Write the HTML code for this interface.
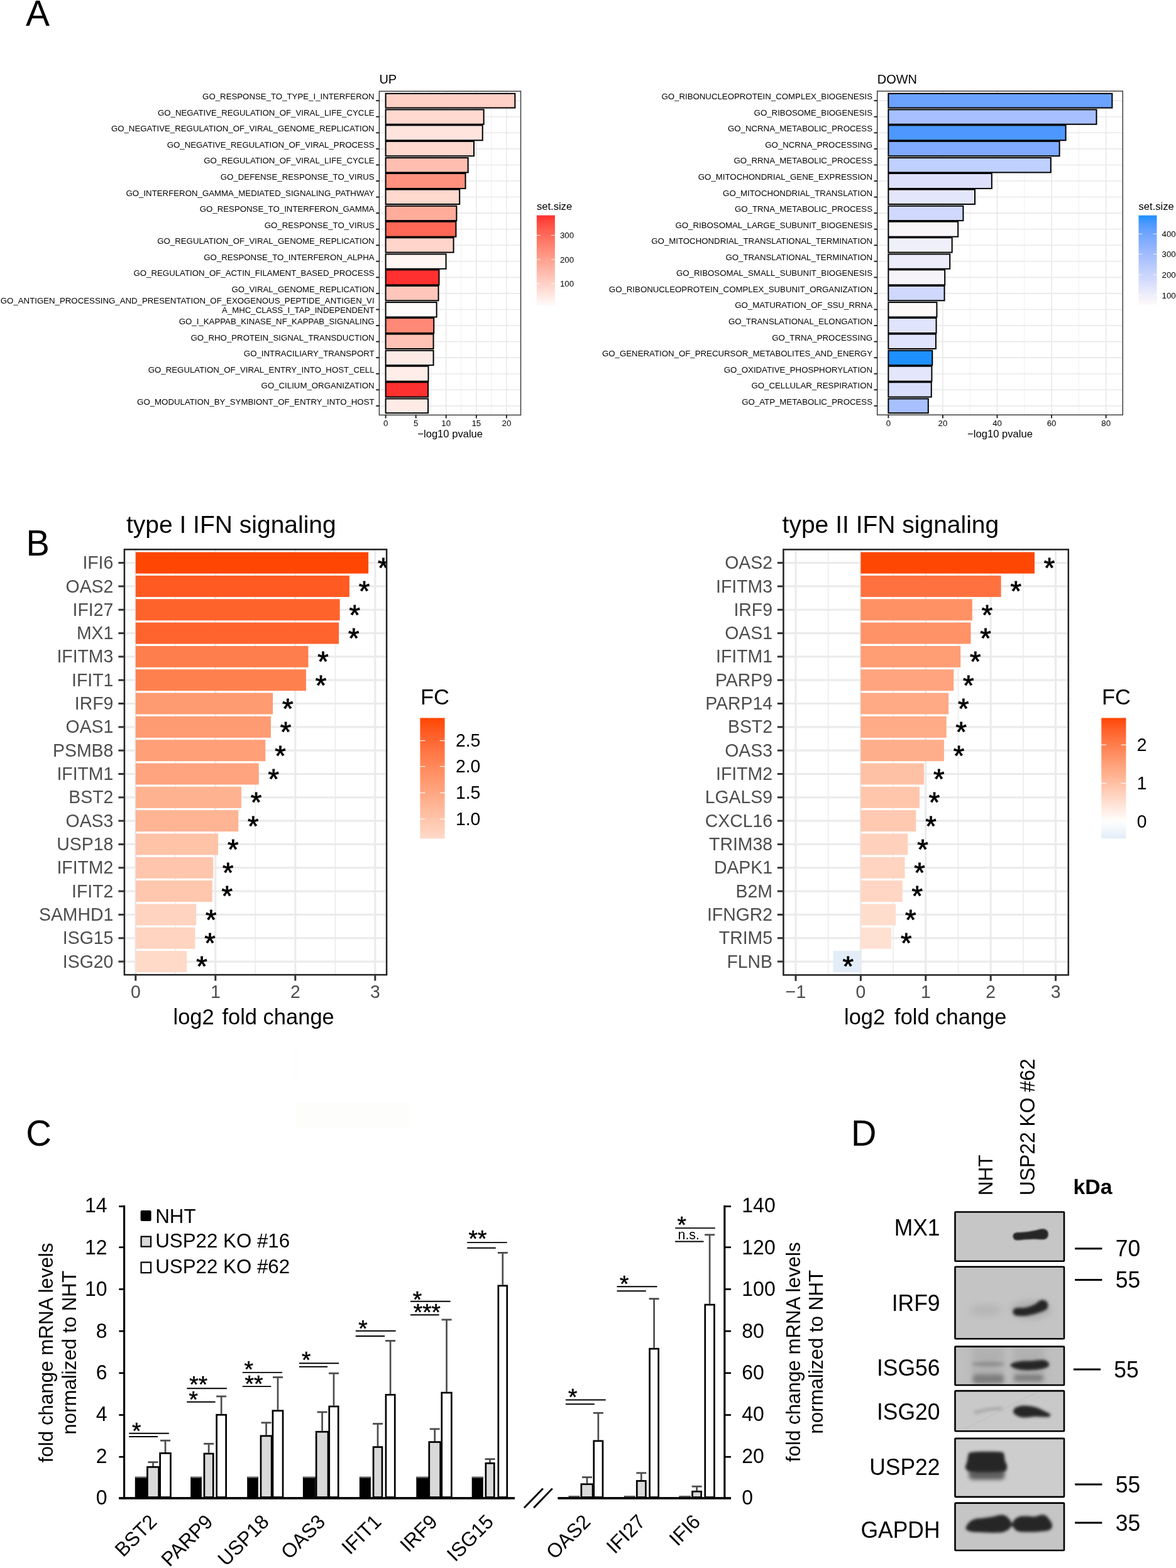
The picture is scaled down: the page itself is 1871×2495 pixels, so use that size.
<!DOCTYPE html>
<html lang="en"><head><meta charset="utf-8"><title>USP22 KO interferon signalling figure</title>
<style>html,body{margin:0;padding:0;background:#fff}body{width:1871px;height:2495px;overflow:hidden}svg{display:block}text{font-family:"Liberation Sans",Arial,Helvetica,sans-serif}</style>
</head><body>
<svg width="1871" height="2495" viewBox="0 0 1871 2495">
<defs>
<linearGradient id="gUp" x1="0" y1="1" x2="0" y2="0"><stop offset="0" stop-color="#FFFAFA"/><stop offset="0.1" stop-color="#FFE9E4"/><stop offset="0.2" stop-color="#FFD7CF"/><stop offset="0.3" stop-color="#FFC6BA"/><stop offset="0.4" stop-color="#FFB4A5"/><stop offset="0.5" stop-color="#FFA290"/><stop offset="0.6" stop-color="#FF8F7C"/><stop offset="0.7" stop-color="#FF7B69"/><stop offset="0.8" stop-color="#FF6656"/><stop offset="0.9" stop-color="#FF4F43"/><stop offset="1" stop-color="#FF3030"/></linearGradient>
<linearGradient id="gDn" x1="0" y1="1" x2="0" y2="0"><stop offset="0" stop-color="#FFFAFA"/><stop offset="0.1" stop-color="#EFEFFB"/><stop offset="0.2" stop-color="#E0E4FC"/><stop offset="0.3" stop-color="#CFD8FD"/><stop offset="0.4" stop-color="#BECEFD"/><stop offset="0.5" stop-color="#ADC3FE"/><stop offset="0.6" stop-color="#9AB8FE"/><stop offset="0.7" stop-color="#85AEFE"/><stop offset="0.8" stop-color="#6EA4FF"/><stop offset="0.9" stop-color="#509AFF"/><stop offset="1" stop-color="#1E90FF"/></linearGradient>
<linearGradient id="gFc1" x1="0" y1="1" x2="0" y2="0"><stop offset="0" stop-color="#FFDAC9"/><stop offset="0.1" stop-color="#FFCDB6"/><stop offset="0.2" stop-color="#FFBFA3"/><stop offset="0.3" stop-color="#FFB291"/><stop offset="0.4" stop-color="#FFA47E"/><stop offset="0.5" stop-color="#FF966C"/><stop offset="0.6" stop-color="#FF8859"/><stop offset="0.7" stop-color="#FF7947"/><stop offset="0.8" stop-color="#FF6934"/><stop offset="0.9" stop-color="#FF581F"/><stop offset="1" stop-color="#FF4500"/></linearGradient>
<linearGradient id="gFc2" x1="0" y1="1" x2="0" y2="0"><stop offset="0" stop-color="#E2ECF8"/><stop offset="0.05" stop-color="#ECF3FB"/><stop offset="0.1" stop-color="#F7FAFD"/><stop offset="0.15" stop-color="#FFFDFC"/><stop offset="0.2" stop-color="#FFF3ED"/><stop offset="0.25" stop-color="#FFE9DF"/><stop offset="0.3" stop-color="#FFDFD0"/><stop offset="0.35" stop-color="#FFD5C2"/><stop offset="0.4" stop-color="#FFCBB4"/><stop offset="0.45" stop-color="#FFC1A6"/><stop offset="0.5" stop-color="#FFB798"/><stop offset="0.55" stop-color="#FFAD8A"/><stop offset="0.6" stop-color="#FFA37D"/><stop offset="0.65" stop-color="#FF996F"/><stop offset="0.7" stop-color="#FF8E62"/><stop offset="0.75" stop-color="#FF8354"/><stop offset="0.8" stop-color="#FF7846"/><stop offset="0.85" stop-color="#FF6D38"/><stop offset="0.9" stop-color="#FF612A"/><stop offset="0.95" stop-color="#FF5319"/><stop offset="1" stop-color="#FF4500"/></linearGradient>
<filter id="b1" x="-40%" y="-100%" width="180%" height="300%"><feGaussianBlur stdDeviation="1.3"/></filter>
<filter id="b2" x="-40%" y="-100%" width="180%" height="300%"><feGaussianBlur stdDeviation="2.0"/></filter>
<filter id="b25" x="-40%" y="-100%" width="180%" height="300%"><feGaussianBlur stdDeviation="2.6"/></filter>
<filter id="b3" x="-40%" y="-100%" width="180%" height="300%"><feGaussianBlur stdDeviation="3.2"/></filter>
<filter id="b5" x="-40%" y="-100%" width="180%" height="300%"><feGaussianBlur stdDeviation="5.5"/></filter>
<clipPath id="cB1"><rect x="197.9" y="874.3" width="417.2" height="676.8"/></clipPath>
<clipPath id="cB2"><rect x="1246.4" y="874.4" width="453.4" height="677"/></clipPath>
<clipPath id="cD0"><rect x="1518.6" y="1927.4" width="175.4" height="80.3"/></clipPath>
<clipPath id="cD1"><rect x="1518.6" y="2014.7" width="175.4" height="116.1"/></clipPath>
<clipPath id="cD2"><rect x="1518.6" y="2141.2" width="175.4" height="63.4"/></clipPath>
<clipPath id="cD3"><rect x="1518.6" y="2212.3" width="175.4" height="65.7"/></clipPath>
<clipPath id="cD4"><rect x="1518.6" y="2288" width="175.4" height="94.6"/></clipPath>
<clipPath id="cD5"><rect x="1518.6" y="2390.9" width="175.4" height="77.1"/></clipPath>
</defs>
<rect x="0" y="0" width="1871" height="2495" fill="#fff"/>
<rect x="470.4" y="1753.2" width="180.4" height="42.7" fill="#FDFDFC"/>
<rect x="468.5" y="1670.9" width="5.8" height="42.4" fill="#FEFDFD"/>
<text font-size="57" transform="translate(41.1 41) scale(1 1.020)">A</text>
<text font-size="56" transform="translate(41.6 884.3) scale(1 1.020)">B</text>
<text font-size="56.5" transform="translate(41.2 1822.9) scale(1 1.020)">C</text>
<text font-size="56" transform="translate(1354 1822.7) scale(1 1.020)">D</text>
<rect x="603.4" y="145.2" width="225.1" height="515.2" fill="#fff"/>
<line x1="637.64" y1="145.2" x2="637.64" y2="660.4" stroke="#EBEBEB" stroke-width="0.8"/>
<line x1="685.71" y1="145.2" x2="685.71" y2="660.4" stroke="#EBEBEB" stroke-width="0.8"/>
<line x1="733.79" y1="145.2" x2="733.79" y2="660.4" stroke="#EBEBEB" stroke-width="0.8"/>
<line x1="781.86" y1="145.2" x2="781.86" y2="660.4" stroke="#EBEBEB" stroke-width="0.8"/>
<line x1="603.4" y1="160.2" x2="828.5" y2="160.2" stroke="#E9E9E9" stroke-width="1.6"/>
<line x1="603.4" y1="185.76" x2="828.5" y2="185.76" stroke="#E9E9E9" stroke-width="1.6"/>
<line x1="603.4" y1="211.32" x2="828.5" y2="211.32" stroke="#E9E9E9" stroke-width="1.6"/>
<line x1="603.4" y1="236.88" x2="828.5" y2="236.88" stroke="#E9E9E9" stroke-width="1.6"/>
<line x1="603.4" y1="262.44" x2="828.5" y2="262.44" stroke="#E9E9E9" stroke-width="1.6"/>
<line x1="603.4" y1="288" x2="828.5" y2="288" stroke="#E9E9E9" stroke-width="1.6"/>
<line x1="603.4" y1="313.56" x2="828.5" y2="313.56" stroke="#E9E9E9" stroke-width="1.6"/>
<line x1="603.4" y1="339.12" x2="828.5" y2="339.12" stroke="#E9E9E9" stroke-width="1.6"/>
<line x1="603.4" y1="364.68" x2="828.5" y2="364.68" stroke="#E9E9E9" stroke-width="1.6"/>
<line x1="603.4" y1="390.24" x2="828.5" y2="390.24" stroke="#E9E9E9" stroke-width="1.6"/>
<line x1="603.4" y1="415.8" x2="828.5" y2="415.8" stroke="#E9E9E9" stroke-width="1.6"/>
<line x1="603.4" y1="441.36" x2="828.5" y2="441.36" stroke="#E9E9E9" stroke-width="1.6"/>
<line x1="603.4" y1="466.92" x2="828.5" y2="466.92" stroke="#E9E9E9" stroke-width="1.6"/>
<line x1="603.4" y1="492.48" x2="828.5" y2="492.48" stroke="#E9E9E9" stroke-width="1.6"/>
<line x1="603.4" y1="518.04" x2="828.5" y2="518.04" stroke="#E9E9E9" stroke-width="1.6"/>
<line x1="603.4" y1="543.6" x2="828.5" y2="543.6" stroke="#E9E9E9" stroke-width="1.6"/>
<line x1="603.4" y1="569.16" x2="828.5" y2="569.16" stroke="#E9E9E9" stroke-width="1.6"/>
<line x1="603.4" y1="594.72" x2="828.5" y2="594.72" stroke="#E9E9E9" stroke-width="1.6"/>
<line x1="603.4" y1="620.28" x2="828.5" y2="620.28" stroke="#E9E9E9" stroke-width="1.6"/>
<line x1="603.4" y1="645.84" x2="828.5" y2="645.84" stroke="#E9E9E9" stroke-width="1.6"/>
<line x1="613.6" y1="145.2" x2="613.6" y2="660.4" stroke="#E9E9E9" stroke-width="1.6"/>
<line x1="661.68" y1="145.2" x2="661.68" y2="660.4" stroke="#E9E9E9" stroke-width="1.6"/>
<line x1="709.75" y1="145.2" x2="709.75" y2="660.4" stroke="#E9E9E9" stroke-width="1.6"/>
<line x1="757.83" y1="145.2" x2="757.83" y2="660.4" stroke="#E9E9E9" stroke-width="1.6"/>
<line x1="805.9" y1="145.2" x2="805.9" y2="660.4" stroke="#E9E9E9" stroke-width="1.6"/>
<rect x="613.6" y="148.82" width="205.76" height="22.76" fill="#FFD0C6" stroke="#000" stroke-width="2"/>
<rect x="613.6" y="174.38" width="156.05" height="23.36" fill="#FFD9D0" stroke="#000" stroke-width="2"/>
<rect x="613.6" y="199.34" width="154.13" height="23.96" fill="#FFE4DE" stroke="#000" stroke-width="2"/>
<rect x="613.6" y="224.9" width="140.38" height="23.36" fill="#FFD8CE" stroke="#000" stroke-width="2"/>
<rect x="613.6" y="251.06" width="131.05" height="23.36" fill="#FFBEB0" stroke="#000" stroke-width="2"/>
<rect x="613.6" y="276.02" width="126.92" height="23.96" fill="#FF917E" stroke="#000" stroke-width="2"/>
<rect x="613.6" y="301.58" width="117.59" height="23.36" fill="#FFD8CE" stroke="#000" stroke-width="2"/>
<rect x="613.6" y="327.74" width="112.78" height="23.36" fill="#FFAC9B" stroke="#000" stroke-width="2"/>
<rect x="613.6" y="352.7" width="111.82" height="23.96" fill="#FF6856" stroke="#000" stroke-width="2"/>
<rect x="613.6" y="378.26" width="107.98" height="23.36" fill="#FFD4CA" stroke="#000" stroke-width="2"/>
<rect x="613.6" y="404.42" width="95.96" height="23.36" fill="#FFF6F4" stroke="#000" stroke-width="2"/>
<rect x="613.6" y="429.38" width="84.9" height="23.96" fill="#FF3030" stroke="#000" stroke-width="2"/>
<rect x="613.6" y="454.94" width="83.94" height="23.36" fill="#FFC7BB" stroke="#000" stroke-width="2"/>
<rect x="613.6" y="481.1" width="81.05" height="23.36" fill="#FFFBFA" stroke="#000" stroke-width="2"/>
<rect x="613.6" y="506.06" width="76.63" height="23.96" fill="#FF8976" stroke="#000" stroke-width="2"/>
<rect x="613.6" y="531.62" width="75.96" height="23.36" fill="#FFC2B4" stroke="#000" stroke-width="2"/>
<rect x="613.6" y="557.78" width="75.96" height="23.36" fill="#FFEBE6" stroke="#000" stroke-width="2"/>
<rect x="613.6" y="582.74" width="67.88" height="23.96" fill="#FFEDE9" stroke="#000" stroke-width="2"/>
<rect x="613.6" y="608.3" width="67.5" height="23.36" fill="#FF3030" stroke="#000" stroke-width="2"/>
<rect x="613.6" y="634.46" width="67.5" height="22.76" fill="#FFEBE6" stroke="#000" stroke-width="2"/>
<rect x="603.4" y="145.2" width="225.1" height="515.2" fill="none" stroke="#333" stroke-width="1.4"/>
<line x1="598.2" y1="160.2" x2="603.4" y2="160.2" stroke="#1A1A1A" stroke-width="1.9"/>
<text font-size="13.25" transform="translate(595.6 158.2) scale(1 1.020)" text-anchor="end">GO_RESPONSE_TO_TYPE_I_INTERFERON</text>
<line x1="598.2" y1="185.76" x2="603.4" y2="185.76" stroke="#1A1A1A" stroke-width="1.9"/>
<text font-size="13.25" transform="translate(595.6 183.76) scale(1 1.020)" text-anchor="end">GO_NEGATIVE_REGULATION_OF_VIRAL_LIFE_CYCLE</text>
<line x1="598.2" y1="211.32" x2="603.4" y2="211.32" stroke="#1A1A1A" stroke-width="1.9"/>
<text font-size="13.25" transform="translate(595.6 209.32) scale(1 1.020)" text-anchor="end">GO_NEGATIVE_REGULATION_OF_VIRAL_GENOME_REPLICATION</text>
<line x1="598.2" y1="236.88" x2="603.4" y2="236.88" stroke="#1A1A1A" stroke-width="1.9"/>
<text font-size="13.25" transform="translate(595.6 234.88) scale(1 1.020)" text-anchor="end">GO_NEGATIVE_REGULATION_OF_VIRAL_PROCESS</text>
<line x1="598.2" y1="262.44" x2="603.4" y2="262.44" stroke="#1A1A1A" stroke-width="1.9"/>
<text font-size="13.25" transform="translate(595.6 260.44) scale(1 1.020)" text-anchor="end">GO_REGULATION_OF_VIRAL_LIFE_CYCLE</text>
<line x1="598.2" y1="288" x2="603.4" y2="288" stroke="#1A1A1A" stroke-width="1.9"/>
<text font-size="13.25" transform="translate(595.6 286) scale(1 1.020)" text-anchor="end">GO_DEFENSE_RESPONSE_TO_VIRUS</text>
<line x1="598.2" y1="313.56" x2="603.4" y2="313.56" stroke="#1A1A1A" stroke-width="1.9"/>
<text font-size="13.25" transform="translate(595.6 311.56) scale(1 1.020)" text-anchor="end">GO_INTERFERON_GAMMA_MEDIATED_SIGNALING_PATHWAY</text>
<line x1="598.2" y1="339.12" x2="603.4" y2="339.12" stroke="#1A1A1A" stroke-width="1.9"/>
<text font-size="13.25" transform="translate(595.6 337.12) scale(1 1.020)" text-anchor="end">GO_RESPONSE_TO_INTERFERON_GAMMA</text>
<line x1="598.2" y1="364.68" x2="603.4" y2="364.68" stroke="#1A1A1A" stroke-width="1.9"/>
<text font-size="13.25" transform="translate(595.6 362.68) scale(1 1.020)" text-anchor="end">GO_RESPONSE_TO_VIRUS</text>
<line x1="598.2" y1="390.24" x2="603.4" y2="390.24" stroke="#1A1A1A" stroke-width="1.9"/>
<text font-size="13.25" transform="translate(595.6 388.24) scale(1 1.020)" text-anchor="end">GO_REGULATION_OF_VIRAL_GENOME_REPLICATION</text>
<line x1="598.2" y1="415.8" x2="603.4" y2="415.8" stroke="#1A1A1A" stroke-width="1.9"/>
<text font-size="13.25" transform="translate(595.6 413.8) scale(1 1.020)" text-anchor="end">GO_RESPONSE_TO_INTERFERON_ALPHA</text>
<line x1="598.2" y1="441.36" x2="603.4" y2="441.36" stroke="#1A1A1A" stroke-width="1.9"/>
<text font-size="13.25" transform="translate(595.6 439.36) scale(1 1.020)" text-anchor="end">GO_REGULATION_OF_ACTIN_FILAMENT_BASED_PROCESS</text>
<line x1="598.2" y1="466.92" x2="603.4" y2="466.92" stroke="#1A1A1A" stroke-width="1.9"/>
<text font-size="13.25" transform="translate(595.6 464.92) scale(1 1.020)" text-anchor="end">GO_VIRAL_GENOME_REPLICATION</text>
<line x1="598.2" y1="492.48" x2="603.4" y2="492.48" stroke="#1A1A1A" stroke-width="1.9"/>
<text font-size="13.25" transform="translate(595.6 482.78) scale(1 1.020)" text-anchor="end">GO_ANTIGEN_PROCESSING_AND_PRESENTATION_OF_EXOGENOUS_PEPTIDE_ANTIGEN_VI</text>
<text font-size="13.25" transform="translate(595.6 497.68) scale(1 1.020)" text-anchor="end">A_MHC_CLASS_I_TAP_INDEPENDENT</text>
<line x1="598.2" y1="518.04" x2="603.4" y2="518.04" stroke="#1A1A1A" stroke-width="1.9"/>
<text font-size="13.25" transform="translate(595.6 516.04) scale(1 1.020)" text-anchor="end">GO_I_KAPPAB_KINASE_NF_KAPPAB_SIGNALING</text>
<line x1="598.2" y1="543.6" x2="603.4" y2="543.6" stroke="#1A1A1A" stroke-width="1.9"/>
<text font-size="13.25" transform="translate(595.6 541.6) scale(1 1.020)" text-anchor="end">GO_RHO_PROTEIN_SIGNAL_TRANSDUCTION</text>
<line x1="598.2" y1="569.16" x2="603.4" y2="569.16" stroke="#1A1A1A" stroke-width="1.9"/>
<text font-size="13.25" transform="translate(595.6 567.16) scale(1 1.020)" text-anchor="end">GO_INTRACILIARY_TRANSPORT</text>
<line x1="598.2" y1="594.72" x2="603.4" y2="594.72" stroke="#1A1A1A" stroke-width="1.9"/>
<text font-size="13.25" transform="translate(595.6 592.72) scale(1 1.020)" text-anchor="end">GO_REGULATION_OF_VIRAL_ENTRY_INTO_HOST_CELL</text>
<line x1="598.2" y1="620.28" x2="603.4" y2="620.28" stroke="#1A1A1A" stroke-width="1.9"/>
<text font-size="13.25" transform="translate(595.6 618.28) scale(1 1.020)" text-anchor="end">GO_CILIUM_ORGANIZATION</text>
<line x1="598.2" y1="645.84" x2="603.4" y2="645.84" stroke="#1A1A1A" stroke-width="1.9"/>
<text font-size="13.25" transform="translate(595.6 643.84) scale(1 1.020)" text-anchor="end">GO_MODULATION_BY_SYMBIONT_OF_ENTRY_INTO_HOST</text>
<line x1="613.6" y1="660.4" x2="613.6" y2="665.6" stroke="#1A1A1A" stroke-width="1.9"/>
<text font-size="13.3" transform="translate(613.6 677.7) scale(1 1.020)" text-anchor="middle">0</text>
<line x1="661.68" y1="660.4" x2="661.68" y2="665.6" stroke="#1A1A1A" stroke-width="1.9"/>
<text font-size="13.3" transform="translate(661.68 677.7) scale(1 1.020)" text-anchor="middle">5</text>
<line x1="709.75" y1="660.4" x2="709.75" y2="665.6" stroke="#1A1A1A" stroke-width="1.9"/>
<text font-size="13.3" transform="translate(709.75 677.7) scale(1 1.020)" text-anchor="middle">10</text>
<line x1="757.83" y1="660.4" x2="757.83" y2="665.6" stroke="#1A1A1A" stroke-width="1.9"/>
<text font-size="13.3" transform="translate(757.83 677.7) scale(1 1.020)" text-anchor="middle">15</text>
<line x1="805.9" y1="660.4" x2="805.9" y2="665.6" stroke="#1A1A1A" stroke-width="1.9"/>
<text font-size="13.3" transform="translate(805.9 677.7) scale(1 1.020)" text-anchor="middle">20</text>
<text font-size="16.6" x="716.2" y="696.2" text-anchor="middle">−log10 pvalue</text>
<text font-size="20" transform="translate(603.4 132.8) scale(1 1.020)">UP</text>
<text font-size="16.6" x="853.9" y="333.5">set.size</text>
<rect x="853.9" y="342.6" width="29" height="143.3" fill="url(#gUp)"/>
<line x1="853.9" y1="374.5" x2="859.7" y2="374.5" stroke="#fff" stroke-width="0.9"/>
<line x1="877.1" y1="374.5" x2="882.9" y2="374.5" stroke="#fff" stroke-width="0.9"/>
<text font-size="13.3" transform="translate(890.9 379.3) scale(1 1.020)">300</text>
<line x1="853.9" y1="413" x2="859.7" y2="413" stroke="#fff" stroke-width="0.9"/>
<line x1="877.1" y1="413" x2="882.9" y2="413" stroke="#fff" stroke-width="0.9"/>
<text font-size="13.3" transform="translate(890.9 417.8) scale(1 1.020)">200</text>
<line x1="853.9" y1="451.2" x2="859.7" y2="451.2" stroke="#fff" stroke-width="0.9"/>
<line x1="877.1" y1="451.2" x2="882.9" y2="451.2" stroke="#fff" stroke-width="0.9"/>
<text font-size="13.3" transform="translate(890.9 456) scale(1 1.020)">100</text>
<rect x="1395.7" y="145" width="390.6" height="515.2" fill="#fff"/>
<line x1="1456.68" y1="145" x2="1456.68" y2="660.2" stroke="#EBEBEB" stroke-width="0.8"/>
<line x1="1543.24" y1="145" x2="1543.24" y2="660.2" stroke="#EBEBEB" stroke-width="0.8"/>
<line x1="1629.8" y1="145" x2="1629.8" y2="660.2" stroke="#EBEBEB" stroke-width="0.8"/>
<line x1="1716.36" y1="145" x2="1716.36" y2="660.2" stroke="#EBEBEB" stroke-width="0.8"/>
<line x1="1395.7" y1="160.2" x2="1786.3" y2="160.2" stroke="#E9E9E9" stroke-width="1.6"/>
<line x1="1395.7" y1="185.76" x2="1786.3" y2="185.76" stroke="#E9E9E9" stroke-width="1.6"/>
<line x1="1395.7" y1="211.32" x2="1786.3" y2="211.32" stroke="#E9E9E9" stroke-width="1.6"/>
<line x1="1395.7" y1="236.88" x2="1786.3" y2="236.88" stroke="#E9E9E9" stroke-width="1.6"/>
<line x1="1395.7" y1="262.44" x2="1786.3" y2="262.44" stroke="#E9E9E9" stroke-width="1.6"/>
<line x1="1395.7" y1="288" x2="1786.3" y2="288" stroke="#E9E9E9" stroke-width="1.6"/>
<line x1="1395.7" y1="313.56" x2="1786.3" y2="313.56" stroke="#E9E9E9" stroke-width="1.6"/>
<line x1="1395.7" y1="339.12" x2="1786.3" y2="339.12" stroke="#E9E9E9" stroke-width="1.6"/>
<line x1="1395.7" y1="364.68" x2="1786.3" y2="364.68" stroke="#E9E9E9" stroke-width="1.6"/>
<line x1="1395.7" y1="390.24" x2="1786.3" y2="390.24" stroke="#E9E9E9" stroke-width="1.6"/>
<line x1="1395.7" y1="415.8" x2="1786.3" y2="415.8" stroke="#E9E9E9" stroke-width="1.6"/>
<line x1="1395.7" y1="441.36" x2="1786.3" y2="441.36" stroke="#E9E9E9" stroke-width="1.6"/>
<line x1="1395.7" y1="466.92" x2="1786.3" y2="466.92" stroke="#E9E9E9" stroke-width="1.6"/>
<line x1="1395.7" y1="492.48" x2="1786.3" y2="492.48" stroke="#E9E9E9" stroke-width="1.6"/>
<line x1="1395.7" y1="518.04" x2="1786.3" y2="518.04" stroke="#E9E9E9" stroke-width="1.6"/>
<line x1="1395.7" y1="543.6" x2="1786.3" y2="543.6" stroke="#E9E9E9" stroke-width="1.6"/>
<line x1="1395.7" y1="569.16" x2="1786.3" y2="569.16" stroke="#E9E9E9" stroke-width="1.6"/>
<line x1="1395.7" y1="594.72" x2="1786.3" y2="594.72" stroke="#E9E9E9" stroke-width="1.6"/>
<line x1="1395.7" y1="620.28" x2="1786.3" y2="620.28" stroke="#E9E9E9" stroke-width="1.6"/>
<line x1="1395.7" y1="645.84" x2="1786.3" y2="645.84" stroke="#E9E9E9" stroke-width="1.6"/>
<line x1="1413.4" y1="145" x2="1413.4" y2="660.2" stroke="#E9E9E9" stroke-width="1.6"/>
<line x1="1499.96" y1="145" x2="1499.96" y2="660.2" stroke="#E9E9E9" stroke-width="1.6"/>
<line x1="1586.52" y1="145" x2="1586.52" y2="660.2" stroke="#E9E9E9" stroke-width="1.6"/>
<line x1="1673.08" y1="145" x2="1673.08" y2="660.2" stroke="#E9E9E9" stroke-width="1.6"/>
<line x1="1759.64" y1="145" x2="1759.64" y2="660.2" stroke="#E9E9E9" stroke-width="1.6"/>
<rect x="1413.4" y="148.82" width="355.98" height="22.76" fill="#6BA2FF" stroke="#000" stroke-width="2"/>
<rect x="1413.4" y="174.38" width="331.09" height="23.36" fill="#A8C0FF" stroke="#000" stroke-width="2"/>
<rect x="1413.4" y="199.34" width="282.19" height="23.96" fill="#4D98FF" stroke="#000" stroke-width="2"/>
<rect x="1413.4" y="224.9" width="272.23" height="23.36" fill="#7FAAFF" stroke="#000" stroke-width="2"/>
<rect x="1413.4" y="251.06" width="258.38" height="23.36" fill="#C0D0FF" stroke="#000" stroke-width="2"/>
<rect x="1413.4" y="276.02" width="164.46" height="23.96" fill="#DCE0FB" stroke="#000" stroke-width="2"/>
<rect x="1413.4" y="301.58" width="137.63" height="23.36" fill="#E4E6FB" stroke="#000" stroke-width="2"/>
<rect x="1413.4" y="327.74" width="119.02" height="23.36" fill="#D0D8FD" stroke="#000" stroke-width="2"/>
<rect x="1413.4" y="352.7" width="110.8" height="23.96" fill="#F8F6F8" stroke="#000" stroke-width="2"/>
<rect x="1413.4" y="378.26" width="101.28" height="23.36" fill="#F0F0FA" stroke="#000" stroke-width="2"/>
<rect x="1413.4" y="404.42" width="97.81" height="23.36" fill="#ECECFA" stroke="#000" stroke-width="2"/>
<rect x="1413.4" y="429.38" width="89.81" height="23.96" fill="#F6F4F9" stroke="#000" stroke-width="2"/>
<rect x="1413.4" y="454.94" width="89.16" height="23.36" fill="#D0D8FD" stroke="#000" stroke-width="2"/>
<rect x="1413.4" y="481.1" width="77.04" height="23.36" fill="#FFFAFA" stroke="#000" stroke-width="2"/>
<rect x="1413.4" y="506.06" width="76.17" height="23.96" fill="#E0E4FC" stroke="#000" stroke-width="2"/>
<rect x="1413.4" y="531.62" width="75.52" height="23.36" fill="#E0E4FC" stroke="#000" stroke-width="2"/>
<rect x="1413.4" y="557.78" width="69.9" height="23.36" fill="#1E90FF" stroke="#000" stroke-width="2"/>
<rect x="1413.4" y="582.74" width="69.03" height="23.96" fill="#E4E6FC" stroke="#000" stroke-width="2"/>
<rect x="1413.4" y="608.3" width="68.38" height="23.36" fill="#D8DEFC" stroke="#000" stroke-width="2"/>
<rect x="1413.4" y="634.46" width="63.41" height="22.76" fill="#A8C0FF" stroke="#000" stroke-width="2"/>
<rect x="1395.7" y="145" width="390.6" height="515.2" fill="none" stroke="#333" stroke-width="1.4"/>
<line x1="1390.5" y1="160.2" x2="1395.7" y2="160.2" stroke="#1A1A1A" stroke-width="1.9"/>
<text font-size="13.25" transform="translate(1388 158.2) scale(1 1.020)" text-anchor="end">GO_RIBONUCLEOPROTEIN_COMPLEX_BIOGENESIS</text>
<line x1="1390.5" y1="185.76" x2="1395.7" y2="185.76" stroke="#1A1A1A" stroke-width="1.9"/>
<text font-size="13.25" transform="translate(1388 183.76) scale(1 1.020)" text-anchor="end">GO_RIBOSOME_BIOGENESIS</text>
<line x1="1390.5" y1="211.32" x2="1395.7" y2="211.32" stroke="#1A1A1A" stroke-width="1.9"/>
<text font-size="13.25" transform="translate(1388 209.32) scale(1 1.020)" text-anchor="end">GO_NCRNA_METABOLIC_PROCESS</text>
<line x1="1390.5" y1="236.88" x2="1395.7" y2="236.88" stroke="#1A1A1A" stroke-width="1.9"/>
<text font-size="13.25" transform="translate(1388 234.88) scale(1 1.020)" text-anchor="end">GO_NCRNA_PROCESSING</text>
<line x1="1390.5" y1="262.44" x2="1395.7" y2="262.44" stroke="#1A1A1A" stroke-width="1.9"/>
<text font-size="13.25" transform="translate(1388 260.44) scale(1 1.020)" text-anchor="end">GO_RRNA_METABOLIC_PROCESS</text>
<line x1="1390.5" y1="288" x2="1395.7" y2="288" stroke="#1A1A1A" stroke-width="1.9"/>
<text font-size="13.25" transform="translate(1388 286) scale(1 1.020)" text-anchor="end">GO_MITOCHONDRIAL_GENE_EXPRESSION</text>
<line x1="1390.5" y1="313.56" x2="1395.7" y2="313.56" stroke="#1A1A1A" stroke-width="1.9"/>
<text font-size="13.25" transform="translate(1388 311.56) scale(1 1.020)" text-anchor="end">GO_MITOCHONDRIAL_TRANSLATION</text>
<line x1="1390.5" y1="339.12" x2="1395.7" y2="339.12" stroke="#1A1A1A" stroke-width="1.9"/>
<text font-size="13.25" transform="translate(1388 337.12) scale(1 1.020)" text-anchor="end">GO_TRNA_METABOLIC_PROCESS</text>
<line x1="1390.5" y1="364.68" x2="1395.7" y2="364.68" stroke="#1A1A1A" stroke-width="1.9"/>
<text font-size="13.25" transform="translate(1388 362.68) scale(1 1.020)" text-anchor="end">GO_RIBOSOMAL_LARGE_SUBUNIT_BIOGENESIS</text>
<line x1="1390.5" y1="390.24" x2="1395.7" y2="390.24" stroke="#1A1A1A" stroke-width="1.9"/>
<text font-size="13.25" transform="translate(1388 388.24) scale(1 1.020)" text-anchor="end">GO_MITOCHONDRIAL_TRANSLATIONAL_TERMINATION</text>
<line x1="1390.5" y1="415.8" x2="1395.7" y2="415.8" stroke="#1A1A1A" stroke-width="1.9"/>
<text font-size="13.25" transform="translate(1388 413.8) scale(1 1.020)" text-anchor="end">GO_TRANSLATIONAL_TERMINATION</text>
<line x1="1390.5" y1="441.36" x2="1395.7" y2="441.36" stroke="#1A1A1A" stroke-width="1.9"/>
<text font-size="13.25" transform="translate(1388 439.36) scale(1 1.020)" text-anchor="end">GO_RIBOSOMAL_SMALL_SUBUNIT_BIOGENESIS</text>
<line x1="1390.5" y1="466.92" x2="1395.7" y2="466.92" stroke="#1A1A1A" stroke-width="1.9"/>
<text font-size="13.25" transform="translate(1388 464.92) scale(1 1.020)" text-anchor="end">GO_RIBONUCLEOPROTEIN_COMPLEX_SUBUNIT_ORGANIZATION</text>
<line x1="1390.5" y1="492.48" x2="1395.7" y2="492.48" stroke="#1A1A1A" stroke-width="1.9"/>
<text font-size="13.25" transform="translate(1388 490.48) scale(1 1.020)" text-anchor="end">GO_MATURATION_OF_SSU_RRNA</text>
<line x1="1390.5" y1="518.04" x2="1395.7" y2="518.04" stroke="#1A1A1A" stroke-width="1.9"/>
<text font-size="13.25" transform="translate(1388 516.04) scale(1 1.020)" text-anchor="end">GO_TRANSLATIONAL_ELONGATION</text>
<line x1="1390.5" y1="543.6" x2="1395.7" y2="543.6" stroke="#1A1A1A" stroke-width="1.9"/>
<text font-size="13.25" transform="translate(1388 541.6) scale(1 1.020)" text-anchor="end">GO_TRNA_PROCESSING</text>
<line x1="1390.5" y1="569.16" x2="1395.7" y2="569.16" stroke="#1A1A1A" stroke-width="1.9"/>
<text font-size="13.25" transform="translate(1388 567.16) scale(1 1.020)" text-anchor="end">GO_GENERATION_OF_PRECURSOR_METABOLITES_AND_ENERGY</text>
<line x1="1390.5" y1="594.72" x2="1395.7" y2="594.72" stroke="#1A1A1A" stroke-width="1.9"/>
<text font-size="13.25" transform="translate(1388 592.72) scale(1 1.020)" text-anchor="end">GO_OXIDATIVE_PHOSPHORYLATION</text>
<line x1="1390.5" y1="620.28" x2="1395.7" y2="620.28" stroke="#1A1A1A" stroke-width="1.9"/>
<text font-size="13.25" transform="translate(1388 618.28) scale(1 1.020)" text-anchor="end">GO_CELLULAR_RESPIRATION</text>
<line x1="1390.5" y1="645.84" x2="1395.7" y2="645.84" stroke="#1A1A1A" stroke-width="1.9"/>
<text font-size="13.25" transform="translate(1388 643.84) scale(1 1.020)" text-anchor="end">GO_ATP_METABOLIC_PROCESS</text>
<line x1="1413.4" y1="660.2" x2="1413.4" y2="665.4" stroke="#1A1A1A" stroke-width="1.9"/>
<text font-size="13.3" transform="translate(1413.4 677.7) scale(1 1.020)" text-anchor="middle">0</text>
<line x1="1499.96" y1="660.2" x2="1499.96" y2="665.4" stroke="#1A1A1A" stroke-width="1.9"/>
<text font-size="13.3" transform="translate(1499.96 677.7) scale(1 1.020)" text-anchor="middle">20</text>
<line x1="1586.52" y1="660.2" x2="1586.52" y2="665.4" stroke="#1A1A1A" stroke-width="1.9"/>
<text font-size="13.3" transform="translate(1586.52 677.7) scale(1 1.020)" text-anchor="middle">40</text>
<line x1="1673.08" y1="660.2" x2="1673.08" y2="665.4" stroke="#1A1A1A" stroke-width="1.9"/>
<text font-size="13.3" transform="translate(1673.08 677.7) scale(1 1.020)" text-anchor="middle">60</text>
<line x1="1759.64" y1="660.2" x2="1759.64" y2="665.4" stroke="#1A1A1A" stroke-width="1.9"/>
<text font-size="13.3" transform="translate(1759.64 677.7) scale(1 1.020)" text-anchor="middle">80</text>
<text font-size="16.6" x="1591" y="696.2" text-anchor="middle">−log10 pvalue</text>
<text font-size="20" transform="translate(1395.7 132.8) scale(1 1.020)">DOWN</text>
<text font-size="16.6" x="1811.5" y="333.5">set.size</text>
<rect x="1811.5" y="342.7" width="29" height="142.5" fill="url(#gDn)"/>
<line x1="1811.5" y1="372.3" x2="1817.3" y2="372.3" stroke="#fff" stroke-width="0.9"/>
<line x1="1834.7" y1="372.3" x2="1840.5" y2="372.3" stroke="#fff" stroke-width="0.9"/>
<text font-size="13.3" transform="translate(1848.5 377.1) scale(1 1.020)">400</text>
<line x1="1811.5" y1="404.3" x2="1817.3" y2="404.3" stroke="#fff" stroke-width="0.9"/>
<line x1="1834.7" y1="404.3" x2="1840.5" y2="404.3" stroke="#fff" stroke-width="0.9"/>
<text font-size="13.3" transform="translate(1848.5 409.1) scale(1 1.020)">300</text>
<line x1="1811.5" y1="437.1" x2="1817.3" y2="437.1" stroke="#fff" stroke-width="0.9"/>
<line x1="1834.7" y1="437.1" x2="1840.5" y2="437.1" stroke="#fff" stroke-width="0.9"/>
<text font-size="13.3" transform="translate(1848.5 441.9) scale(1 1.020)">200</text>
<line x1="1811.5" y1="469.7" x2="1817.3" y2="469.7" stroke="#fff" stroke-width="0.9"/>
<line x1="1834.7" y1="469.7" x2="1840.5" y2="469.7" stroke="#fff" stroke-width="0.9"/>
<text font-size="13.3" transform="translate(1848.5 474.5) scale(1 1.020)">100</text>
<rect x="197.9" y="874.3" width="417.2" height="676.8" fill="#fff"/>
<line x1="279.3" y1="874.3" x2="279.3" y2="1551.1" stroke="#EBEBEB" stroke-width="1.5"/>
<line x1="406.3" y1="874.3" x2="406.3" y2="1551.1" stroke="#EBEBEB" stroke-width="1.5"/>
<line x1="533.3" y1="874.3" x2="533.3" y2="1551.1" stroke="#EBEBEB" stroke-width="1.5"/>
<line x1="197.9" y1="895.6" x2="615.1" y2="895.6" stroke="#EBEBEB" stroke-width="3.2"/>
<line x1="197.9" y1="932.92" x2="615.1" y2="932.92" stroke="#EBEBEB" stroke-width="3.2"/>
<line x1="197.9" y1="970.24" x2="615.1" y2="970.24" stroke="#EBEBEB" stroke-width="3.2"/>
<line x1="197.9" y1="1007.56" x2="615.1" y2="1007.56" stroke="#EBEBEB" stroke-width="3.2"/>
<line x1="197.9" y1="1044.88" x2="615.1" y2="1044.88" stroke="#EBEBEB" stroke-width="3.2"/>
<line x1="197.9" y1="1082.2" x2="615.1" y2="1082.2" stroke="#EBEBEB" stroke-width="3.2"/>
<line x1="197.9" y1="1119.52" x2="615.1" y2="1119.52" stroke="#EBEBEB" stroke-width="3.2"/>
<line x1="197.9" y1="1156.84" x2="615.1" y2="1156.84" stroke="#EBEBEB" stroke-width="3.2"/>
<line x1="197.9" y1="1194.16" x2="615.1" y2="1194.16" stroke="#EBEBEB" stroke-width="3.2"/>
<line x1="197.9" y1="1231.48" x2="615.1" y2="1231.48" stroke="#EBEBEB" stroke-width="3.2"/>
<line x1="197.9" y1="1268.8" x2="615.1" y2="1268.8" stroke="#EBEBEB" stroke-width="3.2"/>
<line x1="197.9" y1="1306.12" x2="615.1" y2="1306.12" stroke="#EBEBEB" stroke-width="3.2"/>
<line x1="197.9" y1="1343.44" x2="615.1" y2="1343.44" stroke="#EBEBEB" stroke-width="3.2"/>
<line x1="197.9" y1="1380.76" x2="615.1" y2="1380.76" stroke="#EBEBEB" stroke-width="3.2"/>
<line x1="197.9" y1="1418.08" x2="615.1" y2="1418.08" stroke="#EBEBEB" stroke-width="3.2"/>
<line x1="197.9" y1="1455.4" x2="615.1" y2="1455.4" stroke="#EBEBEB" stroke-width="3.2"/>
<line x1="197.9" y1="1492.72" x2="615.1" y2="1492.72" stroke="#EBEBEB" stroke-width="3.2"/>
<line x1="197.9" y1="1530.04" x2="615.1" y2="1530.04" stroke="#EBEBEB" stroke-width="3.2"/>
<line x1="215.8" y1="874.3" x2="215.8" y2="1551.1" stroke="#EBEBEB" stroke-width="3.2"/>
<line x1="342.8" y1="874.3" x2="342.8" y2="1551.1" stroke="#EBEBEB" stroke-width="3.2"/>
<line x1="469.8" y1="874.3" x2="469.8" y2="1551.1" stroke="#EBEBEB" stroke-width="3.2"/>
<line x1="596.8" y1="874.3" x2="596.8" y2="1551.1" stroke="#EBEBEB" stroke-width="3.2"/>
<rect x="215.8" y="878.6" width="370.33" height="34" fill="#FF4602"/>
<rect x="215.8" y="915.92" width="340.11" height="34" fill="#FF5A21"/>
<rect x="215.8" y="953.24" width="324.87" height="34" fill="#FF632C"/>
<rect x="215.8" y="990.56" width="323.34" height="34" fill="#FF642E"/>
<rect x="215.8" y="1027.88" width="274.7" height="34" fill="#FF7E4D"/>
<rect x="215.8" y="1065.2" width="271.14" height="34" fill="#FF804F"/>
<rect x="215.8" y="1102.52" width="218.31" height="34" fill="#FF9A71"/>
<rect x="215.8" y="1139.84" width="215.14" height="34" fill="#FF9B73"/>
<rect x="215.8" y="1177.16" width="206.5" height="34" fill="#FF9F78"/>
<rect x="215.8" y="1214.48" width="195.96" height="34" fill="#FFA47F"/>
<rect x="215.8" y="1251.8" width="168.15" height="34" fill="#FFB290"/>
<rect x="215.8" y="1289.12" width="163.45" height="34" fill="#FFB493"/>
<rect x="215.8" y="1326.44" width="131.32" height="34" fill="#FFC3A8"/>
<rect x="215.8" y="1363.76" width="123.44" height="34" fill="#FFC6AD"/>
<rect x="215.8" y="1401.08" width="121.92" height="34" fill="#FFC7AE"/>
<rect x="215.8" y="1438.4" width="96.39" height="34" fill="#FFD3BF"/>
<rect x="215.8" y="1475.72" width="94.49" height="34" fill="#FFD4C0"/>
<rect x="215.8" y="1513.04" width="81.53" height="34" fill="#FFDAC8"/>
<g clip-path="url(#cB1)">
<text font-size="45" x="609.73" y="919" text-anchor="middle" stroke="#000" stroke-width="0.9">*</text>
<text font-size="45" x="579.51" y="956.32" text-anchor="middle" stroke="#000" stroke-width="0.9">*</text>
<text font-size="45" x="564.27" y="993.64" text-anchor="middle" stroke="#000" stroke-width="0.9">*</text>
<text font-size="45" x="562.74" y="1030.96" text-anchor="middle" stroke="#000" stroke-width="0.9">*</text>
<text font-size="45" x="514.1" y="1068.28" text-anchor="middle" stroke="#000" stroke-width="0.9">*</text>
<text font-size="45" x="510.55" y="1105.6" text-anchor="middle" stroke="#000" stroke-width="0.9">*</text>
<text font-size="45" x="457.71" y="1142.92" text-anchor="middle" stroke="#000" stroke-width="0.9">*</text>
<text font-size="45" x="454.54" y="1180.24" text-anchor="middle" stroke="#000" stroke-width="0.9">*</text>
<text font-size="45" x="445.9" y="1217.56" text-anchor="middle" stroke="#000" stroke-width="0.9">*</text>
<text font-size="45" x="435.36" y="1254.88" text-anchor="middle" stroke="#000" stroke-width="0.9">*</text>
<text font-size="45" x="407.55" y="1292.2" text-anchor="middle" stroke="#000" stroke-width="0.9">*</text>
<text font-size="45" x="402.85" y="1329.52" text-anchor="middle" stroke="#000" stroke-width="0.9">*</text>
<text font-size="45" x="370.72" y="1366.84" text-anchor="middle" stroke="#000" stroke-width="0.9">*</text>
<text font-size="45" x="362.84" y="1404.16" text-anchor="middle" stroke="#000" stroke-width="0.9">*</text>
<text font-size="45" x="361.32" y="1441.48" text-anchor="middle" stroke="#000" stroke-width="0.9">*</text>
<text font-size="45" x="335.79" y="1478.8" text-anchor="middle" stroke="#000" stroke-width="0.9">*</text>
<text font-size="45" x="333.89" y="1516.12" text-anchor="middle" stroke="#000" stroke-width="0.9">*</text>
<text font-size="45" x="320.93" y="1553.44" text-anchor="middle" stroke="#000" stroke-width="0.9">*</text>
</g>
<rect x="197.9" y="874.3" width="417.2" height="676.8" fill="none" stroke="#222" stroke-width="2.5"/>
<line x1="188.4" y1="895.6" x2="197.9" y2="895.6" stroke="#333" stroke-width="3"/>
<text font-size="28.4" transform="translate(180.3 905.2) scale(1 1.020)" text-anchor="end" fill="#4D4D4D">IFI6</text>
<line x1="188.4" y1="932.92" x2="197.9" y2="932.92" stroke="#333" stroke-width="3"/>
<text font-size="28.4" transform="translate(180.3 942.52) scale(1 1.020)" text-anchor="end" fill="#4D4D4D">OAS2</text>
<line x1="188.4" y1="970.24" x2="197.9" y2="970.24" stroke="#333" stroke-width="3"/>
<text font-size="28.4" transform="translate(180.3 979.84) scale(1 1.020)" text-anchor="end" fill="#4D4D4D">IFI27</text>
<line x1="188.4" y1="1007.56" x2="197.9" y2="1007.56" stroke="#333" stroke-width="3"/>
<text font-size="28.4" transform="translate(180.3 1017.16) scale(1 1.020)" text-anchor="end" fill="#4D4D4D">MX1</text>
<line x1="188.4" y1="1044.88" x2="197.9" y2="1044.88" stroke="#333" stroke-width="3"/>
<text font-size="28.4" transform="translate(180.3 1054.48) scale(1 1.020)" text-anchor="end" fill="#4D4D4D">IFITM3</text>
<line x1="188.4" y1="1082.2" x2="197.9" y2="1082.2" stroke="#333" stroke-width="3"/>
<text font-size="28.4" transform="translate(180.3 1091.8) scale(1 1.020)" text-anchor="end" fill="#4D4D4D">IFIT1</text>
<line x1="188.4" y1="1119.52" x2="197.9" y2="1119.52" stroke="#333" stroke-width="3"/>
<text font-size="28.4" transform="translate(180.3 1129.12) scale(1 1.020)" text-anchor="end" fill="#4D4D4D">IRF9</text>
<line x1="188.4" y1="1156.84" x2="197.9" y2="1156.84" stroke="#333" stroke-width="3"/>
<text font-size="28.4" transform="translate(180.3 1166.44) scale(1 1.020)" text-anchor="end" fill="#4D4D4D">OAS1</text>
<line x1="188.4" y1="1194.16" x2="197.9" y2="1194.16" stroke="#333" stroke-width="3"/>
<text font-size="28.4" transform="translate(180.3 1203.76) scale(1 1.020)" text-anchor="end" fill="#4D4D4D">PSMB8</text>
<line x1="188.4" y1="1231.48" x2="197.9" y2="1231.48" stroke="#333" stroke-width="3"/>
<text font-size="28.4" transform="translate(180.3 1241.08) scale(1 1.020)" text-anchor="end" fill="#4D4D4D">IFITM1</text>
<line x1="188.4" y1="1268.8" x2="197.9" y2="1268.8" stroke="#333" stroke-width="3"/>
<text font-size="28.4" transform="translate(180.3 1278.4) scale(1 1.020)" text-anchor="end" fill="#4D4D4D">BST2</text>
<line x1="188.4" y1="1306.12" x2="197.9" y2="1306.12" stroke="#333" stroke-width="3"/>
<text font-size="28.4" transform="translate(180.3 1315.72) scale(1 1.020)" text-anchor="end" fill="#4D4D4D">OAS3</text>
<line x1="188.4" y1="1343.44" x2="197.9" y2="1343.44" stroke="#333" stroke-width="3"/>
<text font-size="28.4" transform="translate(180.3 1353.04) scale(1 1.020)" text-anchor="end" fill="#4D4D4D">USP18</text>
<line x1="188.4" y1="1380.76" x2="197.9" y2="1380.76" stroke="#333" stroke-width="3"/>
<text font-size="28.4" transform="translate(180.3 1390.36) scale(1 1.020)" text-anchor="end" fill="#4D4D4D">IFITM2</text>
<line x1="188.4" y1="1418.08" x2="197.9" y2="1418.08" stroke="#333" stroke-width="3"/>
<text font-size="28.4" transform="translate(180.3 1427.68) scale(1 1.020)" text-anchor="end" fill="#4D4D4D">IFIT2</text>
<line x1="188.4" y1="1455.4" x2="197.9" y2="1455.4" stroke="#333" stroke-width="3"/>
<text font-size="28.4" transform="translate(180.3 1465) scale(1 1.020)" text-anchor="end" fill="#4D4D4D">SAMHD1</text>
<line x1="188.4" y1="1492.72" x2="197.9" y2="1492.72" stroke="#333" stroke-width="3"/>
<text font-size="28.4" transform="translate(180.3 1502.32) scale(1 1.020)" text-anchor="end" fill="#4D4D4D">ISG15</text>
<line x1="188.4" y1="1530.04" x2="197.9" y2="1530.04" stroke="#333" stroke-width="3"/>
<text font-size="28.4" transform="translate(180.3 1539.64) scale(1 1.020)" text-anchor="end" fill="#4D4D4D">ISG20</text>
<line x1="215.8" y1="1551.1" x2="215.8" y2="1560.6" stroke="#333" stroke-width="3"/>
<text font-size="28.4" transform="translate(215.8 1588) scale(1 1.020)" text-anchor="middle" fill="#4D4D4D">0</text>
<line x1="342.8" y1="1551.1" x2="342.8" y2="1560.6" stroke="#333" stroke-width="3"/>
<text font-size="28.4" transform="translate(342.8 1588) scale(1 1.020)" text-anchor="middle" fill="#4D4D4D">1</text>
<line x1="469.8" y1="1551.1" x2="469.8" y2="1560.6" stroke="#333" stroke-width="3"/>
<text font-size="28.4" transform="translate(469.8 1588) scale(1 1.020)" text-anchor="middle" fill="#4D4D4D">2</text>
<line x1="596.8" y1="1551.1" x2="596.8" y2="1560.6" stroke="#333" stroke-width="3"/>
<text font-size="28.4" transform="translate(596.8 1588) scale(1 1.020)" text-anchor="middle" fill="#4D4D4D">3</text>
<text font-size="34.5" x="275.5" y="1629.5">log2</text>
<text font-size="34.5" x="531.8" y="1629.5" text-anchor="end">fold change</text>
<text font-size="39" x="200.9" y="848.3">type I IFN signaling</text>
<text font-size="34.5" transform="translate(669 1120.6) scale(1 1.020)">FC</text>
<rect x="668.4" y="1142.4" width="39.2" height="192" fill="url(#gFc1)"/>
<line x1="668.4" y1="1178.5" x2="676.2" y2="1178.5" stroke="#fff" stroke-width="1.2"/>
<line x1="699.8" y1="1178.5" x2="707.6" y2="1178.5" stroke="#fff" stroke-width="1.2"/>
<text font-size="28.4" transform="translate(724.9 1187.9) scale(1 1.020)">2.5</text>
<line x1="668.4" y1="1219.6" x2="676.2" y2="1219.6" stroke="#fff" stroke-width="1.2"/>
<line x1="699.8" y1="1219.6" x2="707.6" y2="1219.6" stroke="#fff" stroke-width="1.2"/>
<text font-size="28.4" transform="translate(724.9 1229) scale(1 1.020)">2.0</text>
<line x1="668.4" y1="1261.5" x2="676.2" y2="1261.5" stroke="#fff" stroke-width="1.2"/>
<line x1="699.8" y1="1261.5" x2="707.6" y2="1261.5" stroke="#fff" stroke-width="1.2"/>
<text font-size="28.4" transform="translate(724.9 1270.9) scale(1 1.020)">1.5</text>
<line x1="668.4" y1="1303.4" x2="676.2" y2="1303.4" stroke="#fff" stroke-width="1.2"/>
<line x1="699.8" y1="1303.4" x2="707.6" y2="1303.4" stroke="#fff" stroke-width="1.2"/>
<text font-size="28.4" transform="translate(724.9 1312.8) scale(1 1.020)">1.0</text>
<rect x="1246.4" y="874.4" width="453.4" height="677" fill="#fff"/>
<line x1="1317.7" y1="874.4" x2="1317.7" y2="1551.4" stroke="#EBEBEB" stroke-width="1.5"/>
<line x1="1421.1" y1="874.4" x2="1421.1" y2="1551.4" stroke="#EBEBEB" stroke-width="1.5"/>
<line x1="1524.5" y1="874.4" x2="1524.5" y2="1551.4" stroke="#EBEBEB" stroke-width="1.5"/>
<line x1="1627.9" y1="874.4" x2="1627.9" y2="1551.4" stroke="#EBEBEB" stroke-width="1.5"/>
<line x1="1246.4" y1="895.6" x2="1699.8" y2="895.6" stroke="#EBEBEB" stroke-width="3.2"/>
<line x1="1246.4" y1="932.92" x2="1699.8" y2="932.92" stroke="#EBEBEB" stroke-width="3.2"/>
<line x1="1246.4" y1="970.24" x2="1699.8" y2="970.24" stroke="#EBEBEB" stroke-width="3.2"/>
<line x1="1246.4" y1="1007.56" x2="1699.8" y2="1007.56" stroke="#EBEBEB" stroke-width="3.2"/>
<line x1="1246.4" y1="1044.88" x2="1699.8" y2="1044.88" stroke="#EBEBEB" stroke-width="3.2"/>
<line x1="1246.4" y1="1082.2" x2="1699.8" y2="1082.2" stroke="#EBEBEB" stroke-width="3.2"/>
<line x1="1246.4" y1="1119.52" x2="1699.8" y2="1119.52" stroke="#EBEBEB" stroke-width="3.2"/>
<line x1="1246.4" y1="1156.84" x2="1699.8" y2="1156.84" stroke="#EBEBEB" stroke-width="3.2"/>
<line x1="1246.4" y1="1194.16" x2="1699.8" y2="1194.16" stroke="#EBEBEB" stroke-width="3.2"/>
<line x1="1246.4" y1="1231.48" x2="1699.8" y2="1231.48" stroke="#EBEBEB" stroke-width="3.2"/>
<line x1="1246.4" y1="1268.8" x2="1699.8" y2="1268.8" stroke="#EBEBEB" stroke-width="3.2"/>
<line x1="1246.4" y1="1306.12" x2="1699.8" y2="1306.12" stroke="#EBEBEB" stroke-width="3.2"/>
<line x1="1246.4" y1="1343.44" x2="1699.8" y2="1343.44" stroke="#EBEBEB" stroke-width="3.2"/>
<line x1="1246.4" y1="1380.76" x2="1699.8" y2="1380.76" stroke="#EBEBEB" stroke-width="3.2"/>
<line x1="1246.4" y1="1418.08" x2="1699.8" y2="1418.08" stroke="#EBEBEB" stroke-width="3.2"/>
<line x1="1246.4" y1="1455.4" x2="1699.8" y2="1455.4" stroke="#EBEBEB" stroke-width="3.2"/>
<line x1="1246.4" y1="1492.72" x2="1699.8" y2="1492.72" stroke="#EBEBEB" stroke-width="3.2"/>
<line x1="1246.4" y1="1530.04" x2="1699.8" y2="1530.04" stroke="#EBEBEB" stroke-width="3.2"/>
<line x1="1266" y1="874.4" x2="1266" y2="1551.4" stroke="#EBEBEB" stroke-width="3.2"/>
<line x1="1369.4" y1="874.4" x2="1369.4" y2="1551.4" stroke="#EBEBEB" stroke-width="3.2"/>
<line x1="1472.8" y1="874.4" x2="1472.8" y2="1551.4" stroke="#EBEBEB" stroke-width="3.2"/>
<line x1="1576.2" y1="874.4" x2="1576.2" y2="1551.4" stroke="#EBEBEB" stroke-width="3.2"/>
<line x1="1679.6" y1="874.4" x2="1679.6" y2="1551.4" stroke="#EBEBEB" stroke-width="3.2"/>
<rect x="1369.4" y="878.6" width="276.59" height="34" fill="#FF4704"/>
<rect x="1369.4" y="915.92" width="223.24" height="34" fill="#FF723F"/>
<rect x="1369.4" y="953.24" width="177.43" height="34" fill="#FF9165"/>
<rect x="1369.4" y="990.56" width="175.06" height="34" fill="#FF9267"/>
<rect x="1369.4" y="1027.88" width="158.82" height="34" fill="#FF9D75"/>
<rect x="1369.4" y="1065.2" width="147.86" height="34" fill="#FFA47E"/>
<rect x="1369.4" y="1102.52" width="139.69" height="34" fill="#FFA985"/>
<rect x="1369.4" y="1139.84" width="136.38" height="34" fill="#FFAB88"/>
<rect x="1369.4" y="1177.16" width="132.56" height="34" fill="#FFAE8B"/>
<rect x="1369.4" y="1214.48" width="100.71" height="34" fill="#FFC1A6"/>
<rect x="1369.4" y="1251.8" width="93.58" height="34" fill="#FFC6AC"/>
<rect x="1369.4" y="1289.12" width="87.89" height="34" fill="#FFC9B1"/>
<rect x="1369.4" y="1326.44" width="74.97" height="34" fill="#FFD1BC"/>
<rect x="1369.4" y="1363.76" width="70.11" height="34" fill="#FFD4C0"/>
<rect x="1369.4" y="1401.08" width="66.38" height="34" fill="#FFD6C4"/>
<rect x="1369.4" y="1438.4" width="55.84" height="34" fill="#FFDDCD"/>
<rect x="1369.4" y="1475.72" width="48.7" height="34" fill="#FFE1D3"/>
<rect x="1325.56" y="1513.04" width="43.84" height="34" fill="#E3EDF8"/>
<g clip-path="url(#cB2)">
<text font-size="45" x="1669.6" y="919" text-anchor="middle" stroke="#000" stroke-width="0.9">*</text>
<text font-size="45" x="1616.24" y="956.32" text-anchor="middle" stroke="#000" stroke-width="0.9">*</text>
<text font-size="45" x="1570.43" y="993.64" text-anchor="middle" stroke="#000" stroke-width="0.9">*</text>
<text font-size="45" x="1568.06" y="1030.96" text-anchor="middle" stroke="#000" stroke-width="0.9">*</text>
<text font-size="45" x="1551.82" y="1068.28" text-anchor="middle" stroke="#000" stroke-width="0.9">*</text>
<text font-size="45" x="1540.86" y="1105.6" text-anchor="middle" stroke="#000" stroke-width="0.9">*</text>
<text font-size="45" x="1532.69" y="1142.92" text-anchor="middle" stroke="#000" stroke-width="0.9">*</text>
<text font-size="45" x="1529.38" y="1180.24" text-anchor="middle" stroke="#000" stroke-width="0.9">*</text>
<text font-size="45" x="1525.56" y="1217.56" text-anchor="middle" stroke="#000" stroke-width="0.9">*</text>
<text font-size="45" x="1493.71" y="1254.88" text-anchor="middle" stroke="#000" stroke-width="0.9">*</text>
<text font-size="45" x="1486.58" y="1292.2" text-anchor="middle" stroke="#000" stroke-width="0.9">*</text>
<text font-size="45" x="1480.89" y="1329.52" text-anchor="middle" stroke="#000" stroke-width="0.9">*</text>
<text font-size="45" x="1467.96" y="1366.84" text-anchor="middle" stroke="#000" stroke-width="0.9">*</text>
<text font-size="45" x="1463.11" y="1404.16" text-anchor="middle" stroke="#000" stroke-width="0.9">*</text>
<text font-size="45" x="1459.38" y="1441.48" text-anchor="middle" stroke="#000" stroke-width="0.9">*</text>
<text font-size="45" x="1448.84" y="1478.8" text-anchor="middle" stroke="#000" stroke-width="0.9">*</text>
<text font-size="45" x="1441.7" y="1516.12" text-anchor="middle" stroke="#000" stroke-width="0.9">*</text>
<text font-size="45" x="1349.16" y="1553.44" text-anchor="middle" stroke="#000" stroke-width="0.9">*</text>
</g>
<rect x="1246.4" y="874.4" width="453.4" height="677" fill="none" stroke="#222" stroke-width="2.5"/>
<line x1="1236.9" y1="895.6" x2="1246.4" y2="895.6" stroke="#333" stroke-width="3"/>
<text font-size="28.4" transform="translate(1229 905.2) scale(1 1.020)" text-anchor="end" fill="#4D4D4D">OAS2</text>
<line x1="1236.9" y1="932.92" x2="1246.4" y2="932.92" stroke="#333" stroke-width="3"/>
<text font-size="28.4" transform="translate(1229 942.52) scale(1 1.020)" text-anchor="end" fill="#4D4D4D">IFITM3</text>
<line x1="1236.9" y1="970.24" x2="1246.4" y2="970.24" stroke="#333" stroke-width="3"/>
<text font-size="28.4" transform="translate(1229 979.84) scale(1 1.020)" text-anchor="end" fill="#4D4D4D">IRF9</text>
<line x1="1236.9" y1="1007.56" x2="1246.4" y2="1007.56" stroke="#333" stroke-width="3"/>
<text font-size="28.4" transform="translate(1229 1017.16) scale(1 1.020)" text-anchor="end" fill="#4D4D4D">OAS1</text>
<line x1="1236.9" y1="1044.88" x2="1246.4" y2="1044.88" stroke="#333" stroke-width="3"/>
<text font-size="28.4" transform="translate(1229 1054.48) scale(1 1.020)" text-anchor="end" fill="#4D4D4D">IFITM1</text>
<line x1="1236.9" y1="1082.2" x2="1246.4" y2="1082.2" stroke="#333" stroke-width="3"/>
<text font-size="28.4" transform="translate(1229 1091.8) scale(1 1.020)" text-anchor="end" fill="#4D4D4D">PARP9</text>
<line x1="1236.9" y1="1119.52" x2="1246.4" y2="1119.52" stroke="#333" stroke-width="3"/>
<text font-size="28.4" transform="translate(1229 1129.12) scale(1 1.020)" text-anchor="end" fill="#4D4D4D">PARP14</text>
<line x1="1236.9" y1="1156.84" x2="1246.4" y2="1156.84" stroke="#333" stroke-width="3"/>
<text font-size="28.4" transform="translate(1229 1166.44) scale(1 1.020)" text-anchor="end" fill="#4D4D4D">BST2</text>
<line x1="1236.9" y1="1194.16" x2="1246.4" y2="1194.16" stroke="#333" stroke-width="3"/>
<text font-size="28.4" transform="translate(1229 1203.76) scale(1 1.020)" text-anchor="end" fill="#4D4D4D">OAS3</text>
<line x1="1236.9" y1="1231.48" x2="1246.4" y2="1231.48" stroke="#333" stroke-width="3"/>
<text font-size="28.4" transform="translate(1229 1241.08) scale(1 1.020)" text-anchor="end" fill="#4D4D4D">IFITM2</text>
<line x1="1236.9" y1="1268.8" x2="1246.4" y2="1268.8" stroke="#333" stroke-width="3"/>
<text font-size="28.4" transform="translate(1229 1278.4) scale(1 1.020)" text-anchor="end" fill="#4D4D4D">LGALS9</text>
<line x1="1236.9" y1="1306.12" x2="1246.4" y2="1306.12" stroke="#333" stroke-width="3"/>
<text font-size="28.4" transform="translate(1229 1315.72) scale(1 1.020)" text-anchor="end" fill="#4D4D4D">CXCL16</text>
<line x1="1236.9" y1="1343.44" x2="1246.4" y2="1343.44" stroke="#333" stroke-width="3"/>
<text font-size="28.4" transform="translate(1229 1353.04) scale(1 1.020)" text-anchor="end" fill="#4D4D4D">TRIM38</text>
<line x1="1236.9" y1="1380.76" x2="1246.4" y2="1380.76" stroke="#333" stroke-width="3"/>
<text font-size="28.4" transform="translate(1229 1390.36) scale(1 1.020)" text-anchor="end" fill="#4D4D4D">DAPK1</text>
<line x1="1236.9" y1="1418.08" x2="1246.4" y2="1418.08" stroke="#333" stroke-width="3"/>
<text font-size="28.4" transform="translate(1229 1427.68) scale(1 1.020)" text-anchor="end" fill="#4D4D4D">B2M</text>
<line x1="1236.9" y1="1455.4" x2="1246.4" y2="1455.4" stroke="#333" stroke-width="3"/>
<text font-size="28.4" transform="translate(1229 1465) scale(1 1.020)" text-anchor="end" fill="#4D4D4D">IFNGR2</text>
<line x1="1236.9" y1="1492.72" x2="1246.4" y2="1492.72" stroke="#333" stroke-width="3"/>
<text font-size="28.4" transform="translate(1229 1502.32) scale(1 1.020)" text-anchor="end" fill="#4D4D4D">TRIM5</text>
<line x1="1236.9" y1="1530.04" x2="1246.4" y2="1530.04" stroke="#333" stroke-width="3"/>
<text font-size="28.4" transform="translate(1229 1539.64) scale(1 1.020)" text-anchor="end" fill="#4D4D4D">FLNB</text>
<line x1="1266" y1="1551.4" x2="1266" y2="1560.9" stroke="#333" stroke-width="3"/>
<text font-size="28.4" transform="translate(1266 1588) scale(1 1.020)" text-anchor="middle" fill="#4D4D4D">−1</text>
<line x1="1369.4" y1="1551.4" x2="1369.4" y2="1560.9" stroke="#333" stroke-width="3"/>
<text font-size="28.4" transform="translate(1369.4 1588) scale(1 1.020)" text-anchor="middle" fill="#4D4D4D">0</text>
<line x1="1472.8" y1="1551.4" x2="1472.8" y2="1560.9" stroke="#333" stroke-width="3"/>
<text font-size="28.4" transform="translate(1472.8 1588) scale(1 1.020)" text-anchor="middle" fill="#4D4D4D">1</text>
<line x1="1576.2" y1="1551.4" x2="1576.2" y2="1560.9" stroke="#333" stroke-width="3"/>
<text font-size="28.4" transform="translate(1576.2 1588) scale(1 1.020)" text-anchor="middle" fill="#4D4D4D">2</text>
<line x1="1679.6" y1="1551.4" x2="1679.6" y2="1560.9" stroke="#333" stroke-width="3"/>
<text font-size="28.4" transform="translate(1679.6 1588) scale(1 1.020)" text-anchor="middle" fill="#4D4D4D">3</text>
<text font-size="34.5" x="1343" y="1629.5">log2</text>
<text font-size="34.5" x="1601.5" y="1629.5" text-anchor="end">fold change</text>
<text font-size="39" x="1244.6" y="848.3">type II IFN signaling</text>
<text font-size="34.5" transform="translate(1752.9 1120.6) scale(1 1.020)">FC</text>
<rect x="1752.3" y="1142.4" width="39.2" height="191.6" fill="url(#gFc2)"/>
<line x1="1752.3" y1="1185.3" x2="1760.1" y2="1185.3" stroke="#fff" stroke-width="1.2"/>
<line x1="1783.7" y1="1185.3" x2="1791.5" y2="1185.3" stroke="#fff" stroke-width="1.2"/>
<text font-size="28.4" transform="translate(1808.8 1194.7) scale(1 1.020)">2</text>
<line x1="1752.3" y1="1246.3" x2="1760.1" y2="1246.3" stroke="#fff" stroke-width="1.2"/>
<line x1="1783.7" y1="1246.3" x2="1791.5" y2="1246.3" stroke="#fff" stroke-width="1.2"/>
<text font-size="28.4" transform="translate(1808.8 1255.7) scale(1 1.020)">1</text>
<line x1="1752.3" y1="1307.3" x2="1760.1" y2="1307.3" stroke="#fff" stroke-width="1.2"/>
<line x1="1783.7" y1="1307.3" x2="1791.5" y2="1307.3" stroke="#fff" stroke-width="1.2"/>
<text font-size="28.4" transform="translate(1808.8 1316.7) scale(1 1.020)">0</text>
<line x1="197.6" y1="1918" x2="197.6" y2="2385.2" stroke="#000" stroke-width="3.1"/>
<text font-size="32" transform="translate(170.6 2394) scale(1 1.020)" text-anchor="end">0</text>
<line x1="189.3" y1="2318.2" x2="197.6" y2="2318.2" stroke="#000" stroke-width="2.7"/>
<text font-size="32" transform="translate(170.6 2327.64) scale(1 1.020)" text-anchor="end">2</text>
<line x1="189.3" y1="2251.5" x2="197.6" y2="2251.5" stroke="#000" stroke-width="2.7"/>
<text font-size="32" transform="translate(170.6 2261.28) scale(1 1.020)" text-anchor="end">4</text>
<line x1="189.3" y1="2184.8" x2="197.6" y2="2184.8" stroke="#000" stroke-width="2.7"/>
<text font-size="32" transform="translate(170.6 2194.92) scale(1 1.020)" text-anchor="end">6</text>
<line x1="189.3" y1="2118.1" x2="197.6" y2="2118.1" stroke="#000" stroke-width="2.7"/>
<text font-size="32" transform="translate(170.6 2128.56) scale(1 1.020)" text-anchor="end">8</text>
<line x1="189.3" y1="2051.4" x2="197.6" y2="2051.4" stroke="#000" stroke-width="2.7"/>
<text font-size="32" transform="translate(170.6 2062.2) scale(1 1.020)" text-anchor="end">10</text>
<line x1="189.3" y1="1984.7" x2="197.6" y2="1984.7" stroke="#000" stroke-width="2.7"/>
<text font-size="32" transform="translate(170.6 1995.84) scale(1 1.020)" text-anchor="end">12</text>
<line x1="189.3" y1="1919.6" x2="197.6" y2="1919.6" stroke="#000" stroke-width="2.7"/>
<text font-size="32" transform="translate(170.6 1929.48) scale(1 1.020)" text-anchor="end">14</text>
<line x1="189.3" y1="2383.8" x2="819" y2="2383.8" stroke="#000" stroke-width="3.2"/>
<line x1="887.6" y1="2383.8" x2="1163" y2="2383.8" stroke="#000" stroke-width="3.2"/>
<line x1="833.9" y1="2399.3" x2="863.9" y2="2368.6" stroke="#000" stroke-width="2.9"/>
<line x1="849.2" y1="2399.3" x2="878.8" y2="2368.6" stroke="#000" stroke-width="2.9"/>
<line x1="1152.8" y1="1918" x2="1152.8" y2="2385.2" stroke="#000" stroke-width="3.1"/>
<text font-size="32" transform="translate(1180.3 2394) scale(1 1.020)">0</text>
<line x1="1152.8" y1="2318.2" x2="1163" y2="2318.2" stroke="#000" stroke-width="2.7"/>
<text font-size="32" transform="translate(1180.3 2327.64) scale(1 1.020)">20</text>
<line x1="1152.8" y1="2251.5" x2="1163" y2="2251.5" stroke="#000" stroke-width="2.7"/>
<text font-size="32" transform="translate(1180.3 2261.28) scale(1 1.020)">40</text>
<line x1="1152.8" y1="2184.8" x2="1163" y2="2184.8" stroke="#000" stroke-width="2.7"/>
<text font-size="32" transform="translate(1180.3 2194.92) scale(1 1.020)">60</text>
<line x1="1152.8" y1="2118.1" x2="1163" y2="2118.1" stroke="#000" stroke-width="2.7"/>
<text font-size="32" transform="translate(1180.3 2128.56) scale(1 1.020)">80</text>
<line x1="1152.8" y1="2051.4" x2="1163" y2="2051.4" stroke="#000" stroke-width="2.7"/>
<text font-size="32" transform="translate(1180.3 2062.2) scale(1 1.020)">100</text>
<line x1="1152.8" y1="1984.7" x2="1163" y2="1984.7" stroke="#000" stroke-width="2.7"/>
<text font-size="32" transform="translate(1180.3 1995.84) scale(1 1.020)">120</text>
<line x1="1152.8" y1="1919.6" x2="1163" y2="1919.6" stroke="#000" stroke-width="2.7"/>
<text font-size="32" transform="translate(1180.3 1929.48) scale(1 1.020)">140</text>
<text font-size="31.3" transform="translate(84 2152.4) rotate(-90)" text-anchor="middle">fold change mRNA levels</text>
<text font-size="31.3" transform="translate(120.8 2152.4) rotate(-90)" text-anchor="middle">normalized to NHT</text>
<text font-size="31.3" transform="translate(1272.5 2151.3) rotate(-90)" text-anchor="middle">fold change mRNA levels</text>
<text font-size="31.3" transform="translate(1309.3 2151.3) rotate(-90)" text-anchor="middle">normalized to NHT</text>
<rect x="223.6" y="1926" width="17" height="17" fill="#000" rx="2"/>
<rect x="224.6" y="1967.6" width="15.4" height="16" fill="#D9D9D9" stroke="#000" stroke-width="2.2"/>
<rect x="224.6" y="2008.6" width="15.4" height="16.6" fill="#fff" stroke="#000" stroke-width="2.2"/>
<text font-size="31.3" transform="translate(247.2 1945.5) scale(1 1.020)">NHT</text>
<text font-size="31.3" transform="translate(247.2 1984.8) scale(1 1.020)">USP22 KO #16</text>
<text font-size="31.3" transform="translate(247.2 2026.4) scale(1 1.020)">USP22 KO #62</text>
<line x1="243.55" y1="2326.6" x2="243.55" y2="2333" stroke="#4D4D4D" stroke-width="2.7"/>
<line x1="235.55" y1="2326.6" x2="251.55" y2="2326.6" stroke="#4D4D4D" stroke-width="2.8"/>
<line x1="263.05" y1="2292.2" x2="263.05" y2="2311" stroke="#4D4D4D" stroke-width="2.7"/>
<line x1="255.05" y1="2292.2" x2="271.05" y2="2292.2" stroke="#4D4D4D" stroke-width="2.8"/>
<rect x="214.8" y="2349.8" width="19.7" height="34" fill="#000"/>
<line x1="215.4" y1="2350.9" x2="233.9" y2="2350.9" stroke="#5A5A5A" stroke-width="2.2"/>
<rect x="234.45" y="2334.35" width="18.2" height="48.1" fill="#D9D9D9" stroke="#000" stroke-width="2.7"/>
<rect x="254.65" y="2312.35" width="16.8" height="70.1" fill="#fff" stroke="#000" stroke-width="2.7"/>
<line x1="205.2" y1="2280.8" x2="268.9" y2="2280.8" stroke="#000" stroke-width="1.9"/>
<line x1="205.2" y1="2286" x2="251" y2="2286" stroke="#000" stroke-width="1.9"/>
<text font-size="37" x="217.3" y="2289.57" text-anchor="middle" stroke="#000" stroke-width="0.5">*</text>
<text font-size="31.3" transform="translate(251.3 2423.4) rotate(-45) scale(1 1.020)" text-anchor="end">BST2</text>
<line x1="332.1" y1="2297.3" x2="332.1" y2="2311.7" stroke="#4D4D4D" stroke-width="2.7"/>
<line x1="324.1" y1="2297.3" x2="340.1" y2="2297.3" stroke="#4D4D4D" stroke-width="2.8"/>
<line x1="352.15" y1="2221.9" x2="352.15" y2="2249.9" stroke="#4D4D4D" stroke-width="2.7"/>
<line x1="344.15" y1="2221.9" x2="360.15" y2="2221.9" stroke="#4D4D4D" stroke-width="2.8"/>
<rect x="303.2" y="2349.8" width="17.7" height="34" fill="#000"/>
<line x1="303.8" y1="2350.9" x2="320.3" y2="2350.9" stroke="#5A5A5A" stroke-width="2.2"/>
<rect x="324.95" y="2313.05" width="14.3" height="69.4" fill="#D9D9D9" stroke="#000" stroke-width="2.7"/>
<rect x="344.65" y="2251.25" width="15" height="131.2" fill="#fff" stroke="#000" stroke-width="2.7"/>
<line x1="297.3" y1="2209.3" x2="360.9" y2="2209.3" stroke="#000" stroke-width="1.9"/>
<line x1="297.3" y1="2230.8" x2="342.6" y2="2230.8" stroke="#000" stroke-width="1.9"/>
<text font-size="37" x="315.7" y="2216.27" text-anchor="middle" stroke="#000" stroke-width="0.5">**</text>
<text font-size="37" x="307.6" y="2239.57" text-anchor="middle" stroke="#000" stroke-width="0.5">*</text>
<text font-size="31.3" transform="translate(340.6 2423.4) rotate(-45) scale(1 1.020)" text-anchor="end">PARP9</text>
<line x1="423.55" y1="2263.8" x2="423.55" y2="2283.5" stroke="#4D4D4D" stroke-width="2.7"/>
<line x1="415.55" y1="2263.8" x2="431.55" y2="2263.8" stroke="#4D4D4D" stroke-width="2.8"/>
<line x1="442" y1="2191.5" x2="442" y2="2243.4" stroke="#4D4D4D" stroke-width="2.7"/>
<line x1="434" y1="2191.5" x2="450" y2="2191.5" stroke="#4D4D4D" stroke-width="2.8"/>
<rect x="393.2" y="2349.8" width="17.7" height="34" fill="#000"/>
<line x1="393.8" y1="2350.9" x2="410.3" y2="2350.9" stroke="#5A5A5A" stroke-width="2.2"/>
<rect x="414.95" y="2284.85" width="17.2" height="97.6" fill="#D9D9D9" stroke="#000" stroke-width="2.7"/>
<rect x="433.95" y="2244.75" width="16.1" height="137.7" fill="#fff" stroke="#000" stroke-width="2.7"/>
<line x1="385.7" y1="2183.9" x2="449.1" y2="2183.9" stroke="#000" stroke-width="1.9"/>
<line x1="385.7" y1="2206.1" x2="431.3" y2="2206.1" stroke="#000" stroke-width="1.9"/>
<text font-size="37" x="395.8" y="2191.87" text-anchor="middle" stroke="#000" stroke-width="0.5">*</text>
<text font-size="37" x="403.9" y="2214.87" text-anchor="middle" stroke="#000" stroke-width="0.5">**</text>
<text font-size="31.3" transform="translate(429.9 2423.4) rotate(-45) scale(1 1.020)" text-anchor="end">USP18</text>
<line x1="512.6" y1="2246.9" x2="512.6" y2="2276.9" stroke="#4D4D4D" stroke-width="2.7"/>
<line x1="504.6" y1="2246.9" x2="520.6" y2="2246.9" stroke="#4D4D4D" stroke-width="2.8"/>
<line x1="531" y1="2185.2" x2="531" y2="2236.6" stroke="#4D4D4D" stroke-width="2.7"/>
<line x1="523" y1="2185.2" x2="539" y2="2185.2" stroke="#4D4D4D" stroke-width="2.8"/>
<rect x="481.9" y="2349.8" width="19.9" height="34" fill="#000"/>
<line x1="482.5" y1="2350.9" x2="501.2" y2="2350.9" stroke="#5A5A5A" stroke-width="2.2"/>
<rect x="503.15" y="2278.25" width="18.9" height="104.2" fill="#D9D9D9" stroke="#000" stroke-width="2.7"/>
<rect x="523.75" y="2237.95" width="14.5" height="144.5" fill="#fff" stroke="#000" stroke-width="2.7"/>
<line x1="476" y1="2169.3" x2="539.2" y2="2169.3" stroke="#000" stroke-width="1.9"/>
<line x1="476" y1="2174.8" x2="521.1" y2="2174.8" stroke="#000" stroke-width="1.9"/>
<text font-size="37" x="487.3" y="2177.07" text-anchor="middle" stroke="#000" stroke-width="0.5">*</text>
<text font-size="31.3" transform="translate(519.2 2423.4) rotate(-45) scale(1 1.020)" text-anchor="end">OAS3</text>
<line x1="601" y1="2265.5" x2="601" y2="2301.2" stroke="#4D4D4D" stroke-width="2.7"/>
<line x1="593" y1="2265.5" x2="609" y2="2265.5" stroke="#4D4D4D" stroke-width="2.8"/>
<line x1="621.1" y1="2133.5" x2="621.1" y2="2218" stroke="#4D4D4D" stroke-width="2.7"/>
<line x1="613.1" y1="2133.5" x2="629.1" y2="2133.5" stroke="#4D4D4D" stroke-width="2.8"/>
<rect x="571.9" y="2349.8" width="18" height="34" fill="#000"/>
<line x1="572.5" y1="2350.9" x2="589.3" y2="2350.9" stroke="#5A5A5A" stroke-width="2.2"/>
<rect x="594.05" y="2302.55" width="13.9" height="79.9" fill="#D9D9D9" stroke="#000" stroke-width="2.7"/>
<rect x="613.95" y="2219.35" width="14.3" height="163.1" fill="#fff" stroke="#000" stroke-width="2.7"/>
<line x1="565.8" y1="2117.7" x2="629.6" y2="2117.7" stroke="#000" stroke-width="1.9"/>
<line x1="565.8" y1="2126" x2="612.1" y2="2126" stroke="#000" stroke-width="1.9"/>
<text font-size="37" x="577.4" y="2127.37" text-anchor="middle" stroke="#000" stroke-width="0.5">*</text>
<text font-size="31.3" transform="translate(608.5 2423.4) rotate(-45) scale(1 1.020)" text-anchor="end">IFIT1</text>
<line x1="691.7" y1="2273.8" x2="691.7" y2="2293.2" stroke="#4D4D4D" stroke-width="2.7"/>
<line x1="683.7" y1="2273.8" x2="699.7" y2="2273.8" stroke="#4D4D4D" stroke-width="2.8"/>
<line x1="710.55" y1="2099.9" x2="710.55" y2="2214.7" stroke="#4D4D4D" stroke-width="2.7"/>
<line x1="702.55" y1="2099.9" x2="718.55" y2="2099.9" stroke="#4D4D4D" stroke-width="2.8"/>
<rect x="662.3" y="2349.8" width="19.7" height="34" fill="#000"/>
<line x1="662.9" y1="2350.9" x2="681.4" y2="2350.9" stroke="#5A5A5A" stroke-width="2.2"/>
<rect x="682.75" y="2294.55" width="17.9" height="87.9" fill="#D9D9D9" stroke="#000" stroke-width="2.7"/>
<rect x="702.75" y="2216.05" width="15.6" height="166.4" fill="#fff" stroke="#000" stroke-width="2.7"/>
<line x1="652.9" y1="2070.8" x2="716.6" y2="2070.8" stroke="#000" stroke-width="1.9"/>
<line x1="652.9" y1="2092.2" x2="698.6" y2="2092.2" stroke="#000" stroke-width="1.9"/>
<text font-size="37" x="663.9" y="2080.57" text-anchor="middle" stroke="#000" stroke-width="0.5">*</text>
<text font-size="37" x="679.4" y="2101.37" text-anchor="middle" stroke="#000" stroke-width="0.5">***</text>
<text font-size="31.3" transform="translate(697.8 2423.4) rotate(-45) scale(1 1.020)" text-anchor="end">IRF9</text>
<line x1="779.55" y1="2321.7" x2="779.55" y2="2327" stroke="#4D4D4D" stroke-width="2.7"/>
<line x1="771.55" y1="2321.7" x2="787.55" y2="2321.7" stroke="#4D4D4D" stroke-width="2.8"/>
<line x1="799.8" y1="1993.4" x2="799.8" y2="2044.5" stroke="#4D4D4D" stroke-width="2.7"/>
<line x1="791.8" y1="1993.4" x2="807.8" y2="1993.4" stroke="#4D4D4D" stroke-width="2.8"/>
<rect x="750.7" y="2349.8" width="18.1" height="34" fill="#000"/>
<line x1="751.3" y1="2350.9" x2="768.2" y2="2350.9" stroke="#5A5A5A" stroke-width="2.2"/>
<rect x="772.85" y="2328.35" width="13.4" height="54.1" fill="#D9D9D9" stroke="#000" stroke-width="2.7"/>
<rect x="792.85" y="2045.85" width="13.9" height="336.6" fill="#fff" stroke="#000" stroke-width="2.7"/>
<line x1="743.2" y1="1977.1" x2="806.7" y2="1977.1" stroke="#000" stroke-width="1.9"/>
<line x1="743.2" y1="1985.7" x2="788.7" y2="1985.7" stroke="#000" stroke-width="1.9"/>
<text font-size="37" x="760" y="1984.37" text-anchor="middle" stroke="#000" stroke-width="0.5">**</text>
<text font-size="31.3" transform="translate(787.1 2423.4) rotate(-45) scale(1 1.020)" text-anchor="end">ISG15</text>
<line x1="933.95" y1="2350.6" x2="933.95" y2="2360.3" stroke="#4D4D4D" stroke-width="2.7"/>
<line x1="925.95" y1="2350.6" x2="941.95" y2="2350.6" stroke="#4D4D4D" stroke-width="2.8"/>
<line x1="951.85" y1="2248.3" x2="951.85" y2="2291.5" stroke="#4D4D4D" stroke-width="2.7"/>
<line x1="943.85" y1="2248.3" x2="959.85" y2="2248.3" stroke="#4D4D4D" stroke-width="2.8"/>
<rect x="904.6" y="2380.2" width="17.5" height="3.6" fill="#000"/>
<line x1="905.2" y1="2381.3" x2="921.5" y2="2381.3" stroke="#5A5A5A" stroke-width="2.2"/>
<rect x="924.85" y="2361.65" width="18.2" height="20.8" fill="#D9D9D9" stroke="#000" stroke-width="2.7"/>
<rect x="944.75" y="2292.85" width="14.2" height="89.6" fill="#fff" stroke="#000" stroke-width="2.7"/>
<line x1="899.9" y1="2227.5" x2="963.7" y2="2227.5" stroke="#000" stroke-width="1.9"/>
<line x1="899.9" y1="2234.3" x2="945.8" y2="2234.3" stroke="#000" stroke-width="1.9"/>
<text font-size="37" x="911.1" y="2236.17" text-anchor="middle" stroke="#000" stroke-width="0.5">*</text>
<text font-size="31.3" transform="translate(941.2 2423.4) rotate(-45) scale(1 1.020)" text-anchor="end">OAS2</text>
<line x1="1020.3" y1="2343.8" x2="1020.3" y2="2355.1" stroke="#4D4D4D" stroke-width="2.7"/>
<line x1="1012.3" y1="2343.8" x2="1028.3" y2="2343.8" stroke="#4D4D4D" stroke-width="2.8"/>
<line x1="1040.6" y1="2066.6" x2="1040.6" y2="2144.8" stroke="#4D4D4D" stroke-width="2.7"/>
<line x1="1032.6" y1="2066.6" x2="1048.6" y2="2066.6" stroke="#4D4D4D" stroke-width="2.8"/>
<rect x="993.1" y="2380.2" width="17.4" height="3.6" fill="#000"/>
<line x1="993.7" y1="2381.3" x2="1009.9" y2="2381.3" stroke="#5A5A5A" stroke-width="2.2"/>
<rect x="1013.25" y="2356.45" width="14.1" height="26" fill="#D9D9D9" stroke="#000" stroke-width="2.7"/>
<rect x="1033.55" y="2146.15" width="14.1" height="236.3" fill="#fff" stroke="#000" stroke-width="2.7"/>
<line x1="981.5" y1="2047.2" x2="1045.5" y2="2047.2" stroke="#000" stroke-width="1.9"/>
<line x1="981.5" y1="2054.2" x2="1027.8" y2="2054.2" stroke="#000" stroke-width="1.9"/>
<text font-size="37" x="993.1" y="2056.07" text-anchor="middle" stroke="#000" stroke-width="0.5">*</text>
<text font-size="31.3" transform="translate(1028.5 2423.4) rotate(-45) scale(1 1.020)" text-anchor="end">IFI27</text>
<line x1="1108.6" y1="2365.2" x2="1108.6" y2="2371.9" stroke="#4D4D4D" stroke-width="2.7"/>
<line x1="1100.6" y1="2365.2" x2="1116.6" y2="2365.2" stroke="#4D4D4D" stroke-width="2.8"/>
<line x1="1129.1" y1="1964.8" x2="1129.1" y2="2074.7" stroke="#4D4D4D" stroke-width="2.7"/>
<line x1="1121.1" y1="1964.8" x2="1137.1" y2="1964.8" stroke="#4D4D4D" stroke-width="2.8"/>
<rect x="1080.5" y="2380.2" width="18.2" height="3.6" fill="#000"/>
<line x1="1081.1" y1="2381.3" x2="1098.1" y2="2381.3" stroke="#5A5A5A" stroke-width="2.2"/>
<rect x="1101.55" y="2373.25" width="14.1" height="9.2" fill="#D9D9D9" stroke="#000" stroke-width="2.7"/>
<rect x="1121.75" y="2076.05" width="14.7" height="306.4" fill="#fff" stroke="#000" stroke-width="2.7"/>
<line x1="1074.1" y1="1954.1" x2="1137.8" y2="1954.1" stroke="#000" stroke-width="1.9"/>
<line x1="1074.1" y1="1975.5" x2="1119.5" y2="1975.5" stroke="#000" stroke-width="1.9"/>
<text font-size="37" x="1084.8" y="1962.07" text-anchor="middle" stroke="#000" stroke-width="0.5">*</text>
<text font-size="31.3" transform="translate(1116 2423.4) rotate(-45) scale(1 1.020)" text-anchor="end">IFI6</text>
<text font-size="21.3" x="1078.6" y="1971.7">n.s.</text>
<line x1="189.3" y1="2383.8" x2="819" y2="2383.8" stroke="#000" stroke-width="3.2"/>
<line x1="887.6" y1="2383.8" x2="1163" y2="2383.8" stroke="#000" stroke-width="3.2"/>
<rect x="1519.2" y="1928.2" width="174.1" height="78.9" fill="#C6C6C6"/>
<g clip-path="url(#cD0)">
<g filter="url(#b1)" fill="#262626" stroke="#262626" stroke-width="0">
<path d="M1611.39,1966.76 C1611.39,1965.1 1612.72,1963.33 1614.04,1962.38 C1615.37,1961.43 1616.25,1961.43 1619.35,1961.05 C1622.44,1960.68 1628.19,1960.63 1632.61,1960.13 C1637.03,1959.62 1642.11,1958.73 1645.87,1958 C1649.63,1957.27 1652.5,1956.13 1655.15,1955.75 C1657.8,1955.37 1659.9,1955.2 1661.78,1955.75 C1663.66,1956.3 1665.43,1957.74 1666.42,1959.07 C1667.42,1960.39 1667.75,1962.05 1667.75,1963.71 C1667.75,1965.36 1667.42,1967.62 1666.42,1969.01 C1665.43,1970.4 1663.66,1971.51 1661.78,1972.06 C1659.9,1972.61 1657.8,1972.39 1655.15,1972.33 C1652.5,1972.26 1649.63,1971.66 1645.87,1971.66 C1642.11,1971.66 1637.03,1972.04 1632.61,1972.33 C1628.19,1972.61 1622.44,1973.39 1619.35,1973.39 C1616.25,1973.39 1615.37,1973.43 1614.04,1972.33 C1612.72,1971.22 1611.39,1968.41 1611.39,1966.76Z"/>
</g>
</g>
<rect x="1519.5" y="1928.5" width="173.5" height="78.3" fill="none" stroke="#000" stroke-width="2.6" rx="0.8"/>
<rect x="1519.2" y="2015.4" width="174.1" height="115.1" fill="#C4C4C4"/>
<g clip-path="url(#cD1)">
<g filter="url(#b5)" fill="#B2B2B2" stroke="#B2B2B2" stroke-width="0" opacity="0.8">
<ellipse cx="1568" cy="2085" rx="26" ry="9"/>
</g>
<g filter="url(#b5)" fill="#A6A6A6" stroke="#A6A6A6" stroke-width="0" opacity="0.7">
<ellipse cx="1640" cy="2084" rx="32" ry="15"/>
</g>
<g filter="url(#b2)" fill="#262626" stroke="#262626" stroke-width="0">
<path d="M1611.39,2087.03 C1611.39,2085.37 1612.72,2083.39 1614.04,2082.39 C1615.37,2081.4 1616.25,2081.4 1619.35,2081.06 C1622.44,2080.73 1628.19,2081.29 1632.61,2080.4 C1637.03,2079.52 1642.33,2077.53 1645.87,2075.76 C1649.41,2073.99 1651.62,2071.01 1653.83,2069.79 C1656.04,2068.58 1657.25,2068.25 1659.13,2068.47 C1661.01,2068.69 1663.73,2069.68 1665.1,2071.12 C1666.47,2072.56 1667.24,2075.21 1667.35,2077.09 C1667.46,2078.97 1667.13,2080.84 1665.76,2082.39 C1664.39,2083.94 1662.45,2084.93 1659.13,2086.37 C1655.81,2087.81 1650.29,2089.79 1645.87,2091.01 C1641.45,2092.23 1637.03,2093.22 1632.61,2093.66 C1628.19,2094.1 1622.44,2093.88 1619.35,2093.66 C1616.25,2093.44 1615.37,2093.44 1614.04,2092.34 C1612.72,2091.23 1611.39,2088.69 1611.39,2087.03Z"/>
</g>
</g>
<rect x="1519.5" y="2015.7" width="173.5" height="114.5" fill="none" stroke="#000" stroke-width="2.6" rx="0.8"/>
<rect x="1519.2" y="2142.3" width="174.1" height="62" fill="#BFBFBF"/>
<g clip-path="url(#cD2)">
<g filter="url(#b5)" fill="#ADADAD" stroke="#ADADAD" stroke-width="0" opacity="0.8">
<rect x="1546" y="2143" width="52" height="61" rx="4"/>
<rect x="1612" y="2143" width="50" height="61" rx="4"/>
</g>
<g filter="url(#b25)" fill="#8A8A8A" stroke="#8A8A8A" stroke-width="0" opacity="0.9">
<ellipse cx="1572" cy="2170.5" rx="26" ry="3.6"/>
</g>
<g filter="url(#b3)" fill="#7C7C7C" stroke="#7C7C7C" stroke-width="0" opacity="0.95">
<rect x="1548" y="2187" width="49" height="14" rx="5"/>
</g>
<g filter="url(#b3)" fill="#7A7A7A" stroke="#7A7A7A" stroke-width="0" opacity="0.95">
<rect x="1613" y="2187.5" width="47" height="10" rx="5"/>
</g>
<g filter="url(#b2)" fill="#262626" stroke="#262626" stroke-width="0">
<path d="M1607.41,2172.17 C1607.63,2170.95 1609.62,2169.52 1612.72,2168.46 C1615.81,2167.4 1621.56,2166.29 1625.98,2165.8 C1630.4,2165.32 1634.82,2165.8 1639.24,2165.54 C1643.66,2165.27 1648.74,2164.43 1652.5,2164.21 C1656.26,2163.99 1659.24,2163.62 1661.78,2164.21 C1664.32,2164.81 1666.53,2166.64 1667.75,2167.79 C1668.97,2168.94 1669.19,2169.89 1669.08,2171.11 C1668.97,2172.32 1668.74,2173.94 1667.09,2175.09 C1665.43,2176.24 1662.67,2177.23 1659.13,2178 C1655.59,2178.78 1650.29,2179.37 1645.87,2179.73 C1641.45,2180.08 1637.03,2180.28 1632.61,2180.13 C1628.19,2179.97 1622.88,2179.53 1619.35,2178.8 C1615.81,2178.07 1613.38,2176.85 1611.39,2175.75 C1609.4,2174.64 1607.19,2173.39 1607.41,2172.17Z"/>
</g>
</g>
<rect x="1519.5" y="2142.6" width="173.5" height="61.4" fill="none" stroke="#000" stroke-width="2.6" rx="0.8"/>
<rect x="1519.2" y="2212.8" width="174.1" height="64.7" fill="#C9C9C9"/>
<g clip-path="url(#cD3)">
<line x1="1535.8" y1="2273.2" x2="1648.5" y2="2216.2" stroke="#B9B9B9" stroke-width="0.7"/>
<g filter="url(#b25)" fill="#A2A2A2" stroke="#A2A2A2" stroke-width="0" opacity="0.95">
<path d="M1552,2247.5 Q1575,2240.5 1593,2241.5" fill="none" stroke-width="4.5" stroke-linecap="round"/>
</g>
<g filter="url(#b2)" fill="#262626" stroke="#262626" stroke-width="0">
<path d="M1612.05,2245.37 C1612.39,2243.82 1613.49,2241.44 1615.37,2240.06 C1617.25,2238.69 1620.45,2237.7 1623.33,2237.15 C1626.2,2236.6 1629.29,2236.6 1632.61,2236.75 C1635.92,2236.9 1639.68,2237.3 1643.22,2238.08 C1646.75,2238.85 1650.51,2240.06 1653.83,2241.39 C1657.14,2242.72 1660.35,2244.6 1663.11,2246.03 C1665.87,2247.47 1669.08,2248.91 1670.4,2250.01 C1671.73,2251.12 1671.62,2251.89 1671.06,2252.66 C1670.51,2253.44 1669.52,2254.36 1667.09,2254.65 C1664.66,2254.94 1660.01,2254.5 1656.48,2254.39 C1652.94,2254.28 1649.41,2253.83 1645.87,2253.99 C1642.33,2254.14 1638.58,2255.09 1635.26,2255.31 C1631.95,2255.54 1628.85,2255.76 1625.98,2255.31 C1623.1,2254.87 1620.12,2253.66 1618.02,2252.66 C1615.92,2251.67 1614.37,2250.56 1613.38,2249.35 C1612.39,2248.13 1611.72,2246.92 1612.05,2245.37Z"/>
</g>
</g>
<rect x="1519.5" y="2213.1" width="173.5" height="64.1" fill="none" stroke="#000" stroke-width="2.6" rx="0.8"/>
<rect x="1519.2" y="2288.6" width="174.1" height="93.6" fill="#CDCDCD"/>
<g clip-path="url(#cD4)">
<g filter="url(#b3)" fill="#5A5A5A" stroke="#5A5A5A" stroke-width="0" opacity="0.95">
<rect x="1541.5" y="2334" width="57" height="20.5" rx="6"/>
</g>
<g filter="url(#b2)" fill="#262626" stroke="#262626" stroke-width="0">
<path d="M1535.8,2334.37 C1535.58,2332.05 1537.68,2329.51 1538.46,2326.41 C1539.23,2323.32 1539.56,2318.35 1540.45,2315.8 C1541.33,2313.26 1539.45,2312.16 1543.76,2311.16 C1548.07,2310.17 1558.13,2309.95 1566.3,2309.84 C1574.48,2309.73 1587.63,2309.73 1592.83,2310.5 C1598.02,2311.27 1596.47,2312.27 1597.47,2314.48 C1598.46,2316.69 1598.02,2320.89 1598.79,2323.76 C1599.57,2326.63 1601.67,2329.51 1602.11,2331.72 C1602.55,2333.93 1602.11,2335.47 1601.45,2337.02 C1600.78,2338.57 1601.78,2340.12 1598.13,2341 C1594.48,2341.88 1587.08,2342.1 1579.57,2342.33 C1572.05,2342.55 1559.67,2342.66 1553.04,2342.33 C1546.41,2341.99 1542.66,2341.66 1539.78,2340.34 C1536.91,2339.01 1536.03,2336.69 1535.8,2334.37Z"/>
</g>
</g>
<rect x="1519.5" y="2288.9" width="173.5" height="93" fill="none" stroke="#000" stroke-width="2.6" rx="0.8"/>
<rect x="1519.2" y="2391.3" width="174.1" height="76" fill="#C5C5C5"/>
<g clip-path="url(#cD5)">
<g filter="url(#b2)" fill="#262626" stroke="#262626" stroke-width="0">
<path d="M1536.47,2431.17 C1537.02,2429.41 1538.79,2425.54 1541.11,2423.22 C1543.43,2420.9 1546.19,2418.58 1550.39,2417.25 C1554.59,2415.92 1561.44,2415.92 1566.3,2415.26 C1571.17,2414.6 1575.14,2414.04 1579.57,2413.27 C1583.99,2412.5 1589.29,2410.73 1592.83,2410.62 C1596.36,2410.51 1598.35,2411.17 1600.78,2412.61 C1603.21,2414.04 1605.87,2417.36 1607.41,2419.24 C1608.96,2421.12 1608.96,2424.1 1610.06,2423.88 C1611.17,2423.66 1612.05,2419.68 1614.04,2417.91 C1616.03,2416.14 1618.91,2414.16 1622,2413.27 C1625.09,2412.39 1628.63,2412.61 1632.61,2412.61 C1636.59,2412.61 1641.89,2413.6 1645.87,2413.27 C1649.85,2412.94 1653.6,2410.95 1656.48,2410.62 C1659.35,2410.29 1660.9,2410.07 1663.11,2411.28 C1665.32,2412.5 1667.93,2415.48 1669.74,2417.91 C1671.55,2420.34 1673.54,2423.44 1673.98,2425.87 C1674.42,2428.3 1673.76,2430.84 1672.39,2432.5 C1671.02,2434.16 1669.08,2435.04 1665.76,2435.81 C1662.45,2436.59 1658.03,2436.81 1652.5,2437.14 C1646.97,2437.47 1638.13,2437.91 1632.61,2437.8 C1627.08,2437.69 1622.66,2437.58 1619.35,2436.48 C1616.03,2435.37 1614.26,2432.61 1612.72,2431.17 C1611.17,2429.74 1611.17,2427.64 1610.06,2427.86 C1608.96,2428.08 1608.08,2430.95 1606.09,2432.5 C1604.1,2434.05 1601.45,2436.08 1598.13,2437.14 C1594.82,2438.2 1591.5,2438.64 1586.2,2438.86 C1580.89,2439.09 1571.83,2438.6 1566.3,2438.47 C1560.78,2438.33 1557.02,2438.4 1553.04,2438.07 C1549.07,2437.74 1544.98,2437.19 1542.43,2436.48 C1539.89,2435.77 1538.79,2434.71 1537.79,2433.83 C1536.8,2432.94 1535.91,2432.94 1536.47,2431.17Z"/>
</g>
</g>
<rect x="1519.5" y="2391.6" width="173.5" height="75.4" fill="none" stroke="#000" stroke-width="2.6" rx="0.8"/>
<text font-size="35.5" transform="translate(1495.6 1966.2) scale(1 1.020)" text-anchor="end">MX1</text>
<text font-size="35.5" transform="translate(1495.6 2086.1) scale(1 1.020)" text-anchor="end">IRF9</text>
<text font-size="35.5" transform="translate(1495.6 2189) scale(1 1.020)" text-anchor="end">ISG56</text>
<text font-size="35.5" transform="translate(1495.6 2258.7) scale(1 1.020)" text-anchor="end">ISG20</text>
<text font-size="35.5" transform="translate(1495.6 2347.4) scale(1 1.020)" text-anchor="end">USP22</text>
<text font-size="35.5" transform="translate(1495.6 2447) scale(1 1.020)" text-anchor="end">GAPDH</text>
<text font-size="31.5" transform="translate(1578.6 1902.2) rotate(-90) scale(1 1.020)">NHT</text>
<text font-size="31.85" transform="translate(1646.4 1902.2) rotate(-90) scale(1 1.020)">USP22 KO #62</text>
<text font-size="33.8" x="1707.5" y="1899.8" font-weight="bold">kDa</text>
<line x1="1710.2" y1="1986.8" x2="1753.4" y2="1986.8" stroke="#000" stroke-width="3"/>
<text font-size="35.5" transform="translate(1774.8 1999.3) scale(1 1.020)">70</text>
<line x1="1710.2" y1="2036.6" x2="1753.4" y2="2036.6" stroke="#000" stroke-width="3"/>
<text font-size="35.5" transform="translate(1774.8 2049.1) scale(1 1.020)">55</text>
<line x1="1707.9" y1="2179" x2="1751.1" y2="2179" stroke="#000" stroke-width="3"/>
<text font-size="35.5" transform="translate(1772.3 2191.5) scale(1 1.020)">55</text>
<line x1="1710.2" y1="2362" x2="1753.4" y2="2362" stroke="#000" stroke-width="3"/>
<text font-size="35.5" transform="translate(1774.8 2374.5) scale(1 1.020)">55</text>
<line x1="1710.2" y1="2423.1" x2="1753.4" y2="2423.1" stroke="#000" stroke-width="3"/>
<text font-size="35.5" transform="translate(1774.8 2435.6) scale(1 1.020)">35</text>
</svg>
</body></html>
